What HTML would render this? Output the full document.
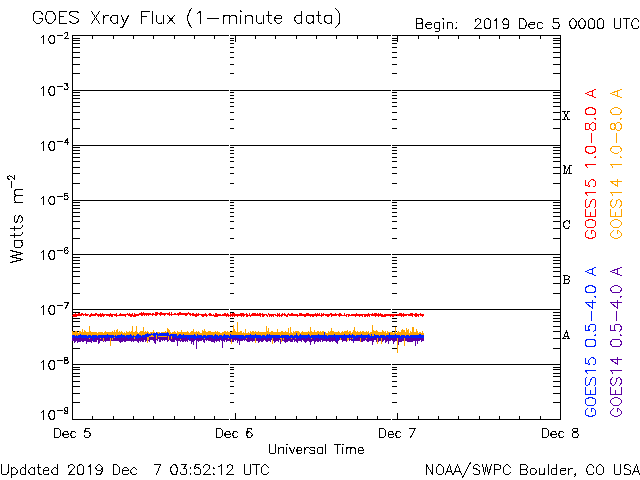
<!DOCTYPE html>
<html><head><meta charset="utf-8"><style>
html,body{margin:0;padding:0;background:#fff;width:640px;height:480px;overflow:hidden}
svg{display:block}
text{font-family:"Liberation Sans",sans-serif}
</style></head><body>
<svg width="640" height="480" viewBox="0 0 640 480">
<rect width="640" height="480" fill="#fff"/>
<g shape-rendering="crispEdges">
<rect x="72" y="35" width="489" height="1" fill="#000"/>
<rect x="72" y="419" width="489" height="1" fill="#000"/>
<rect x="72" y="35" width="1" height="385" fill="#000"/>
<rect x="560" y="35" width="1" height="385" fill="#000"/>
<rect x="72" y="90" width="489" height="1" fill="#000"/>
<rect x="72" y="145" width="489" height="1" fill="#000"/>
<rect x="72" y="200" width="489" height="1" fill="#000"/>
<rect x="72" y="254" width="489" height="1" fill="#000"/>
<rect x="72" y="309" width="489" height="1" fill="#000"/>
<rect x="72" y="364" width="489" height="1" fill="#000"/>
<rect x="72" y="73" width="8" height="1" fill="#000"/>
<rect x="553" y="73" width="8" height="1" fill="#000"/>
<rect x="230" y="73" width="4" height="1" fill="#000"/>
<rect x="392" y="73" width="5" height="1" fill="#000"/>
<rect x="72" y="64" width="8" height="1" fill="#000"/>
<rect x="553" y="64" width="8" height="1" fill="#000"/>
<rect x="230" y="64" width="4" height="1" fill="#000"/>
<rect x="392" y="64" width="5" height="1" fill="#000"/>
<rect x="72" y="57" width="8" height="1" fill="#000"/>
<rect x="553" y="57" width="8" height="1" fill="#000"/>
<rect x="230" y="57" width="4" height="1" fill="#000"/>
<rect x="392" y="57" width="5" height="1" fill="#000"/>
<rect x="72" y="52" width="8" height="1" fill="#000"/>
<rect x="553" y="52" width="8" height="1" fill="#000"/>
<rect x="230" y="52" width="4" height="1" fill="#000"/>
<rect x="392" y="52" width="5" height="1" fill="#000"/>
<rect x="72" y="47" width="8" height="1" fill="#000"/>
<rect x="553" y="47" width="8" height="1" fill="#000"/>
<rect x="230" y="47" width="4" height="1" fill="#000"/>
<rect x="392" y="47" width="5" height="1" fill="#000"/>
<rect x="72" y="43" width="8" height="1" fill="#000"/>
<rect x="553" y="43" width="8" height="1" fill="#000"/>
<rect x="230" y="43" width="4" height="1" fill="#000"/>
<rect x="392" y="43" width="5" height="1" fill="#000"/>
<rect x="72" y="40" width="8" height="1" fill="#000"/>
<rect x="553" y="40" width="8" height="1" fill="#000"/>
<rect x="230" y="40" width="4" height="1" fill="#000"/>
<rect x="392" y="40" width="5" height="1" fill="#000"/>
<rect x="72" y="38" width="8" height="1" fill="#000"/>
<rect x="553" y="38" width="8" height="1" fill="#000"/>
<rect x="230" y="38" width="4" height="1" fill="#000"/>
<rect x="392" y="38" width="5" height="1" fill="#000"/>
<rect x="72" y="128" width="8" height="1" fill="#000"/>
<rect x="553" y="128" width="8" height="1" fill="#000"/>
<rect x="230" y="128" width="4" height="1" fill="#000"/>
<rect x="392" y="128" width="5" height="1" fill="#000"/>
<rect x="72" y="119" width="8" height="1" fill="#000"/>
<rect x="553" y="119" width="8" height="1" fill="#000"/>
<rect x="230" y="119" width="4" height="1" fill="#000"/>
<rect x="392" y="119" width="5" height="1" fill="#000"/>
<rect x="72" y="112" width="8" height="1" fill="#000"/>
<rect x="553" y="112" width="8" height="1" fill="#000"/>
<rect x="230" y="112" width="4" height="1" fill="#000"/>
<rect x="392" y="112" width="5" height="1" fill="#000"/>
<rect x="72" y="106" width="8" height="1" fill="#000"/>
<rect x="553" y="106" width="8" height="1" fill="#000"/>
<rect x="230" y="106" width="4" height="1" fill="#000"/>
<rect x="392" y="106" width="5" height="1" fill="#000"/>
<rect x="72" y="102" width="8" height="1" fill="#000"/>
<rect x="553" y="102" width="8" height="1" fill="#000"/>
<rect x="230" y="102" width="4" height="1" fill="#000"/>
<rect x="392" y="102" width="5" height="1" fill="#000"/>
<rect x="72" y="98" width="8" height="1" fill="#000"/>
<rect x="553" y="98" width="8" height="1" fill="#000"/>
<rect x="230" y="98" width="4" height="1" fill="#000"/>
<rect x="392" y="98" width="5" height="1" fill="#000"/>
<rect x="72" y="95" width="8" height="1" fill="#000"/>
<rect x="553" y="95" width="8" height="1" fill="#000"/>
<rect x="230" y="95" width="4" height="1" fill="#000"/>
<rect x="392" y="95" width="5" height="1" fill="#000"/>
<rect x="72" y="92" width="8" height="1" fill="#000"/>
<rect x="553" y="92" width="8" height="1" fill="#000"/>
<rect x="230" y="92" width="4" height="1" fill="#000"/>
<rect x="392" y="92" width="5" height="1" fill="#000"/>
<rect x="72" y="183" width="8" height="1" fill="#000"/>
<rect x="553" y="183" width="8" height="1" fill="#000"/>
<rect x="230" y="183" width="4" height="1" fill="#000"/>
<rect x="392" y="183" width="5" height="1" fill="#000"/>
<rect x="72" y="173" width="8" height="1" fill="#000"/>
<rect x="553" y="173" width="8" height="1" fill="#000"/>
<rect x="230" y="173" width="4" height="1" fill="#000"/>
<rect x="392" y="173" width="5" height="1" fill="#000"/>
<rect x="72" y="167" width="8" height="1" fill="#000"/>
<rect x="553" y="167" width="8" height="1" fill="#000"/>
<rect x="230" y="167" width="4" height="1" fill="#000"/>
<rect x="392" y="167" width="5" height="1" fill="#000"/>
<rect x="72" y="161" width="8" height="1" fill="#000"/>
<rect x="553" y="161" width="8" height="1" fill="#000"/>
<rect x="230" y="161" width="4" height="1" fill="#000"/>
<rect x="392" y="161" width="5" height="1" fill="#000"/>
<rect x="72" y="157" width="8" height="1" fill="#000"/>
<rect x="553" y="157" width="8" height="1" fill="#000"/>
<rect x="230" y="157" width="4" height="1" fill="#000"/>
<rect x="392" y="157" width="5" height="1" fill="#000"/>
<rect x="72" y="153" width="8" height="1" fill="#000"/>
<rect x="553" y="153" width="8" height="1" fill="#000"/>
<rect x="230" y="153" width="4" height="1" fill="#000"/>
<rect x="392" y="153" width="5" height="1" fill="#000"/>
<rect x="72" y="150" width="8" height="1" fill="#000"/>
<rect x="553" y="150" width="8" height="1" fill="#000"/>
<rect x="230" y="150" width="4" height="1" fill="#000"/>
<rect x="392" y="150" width="5" height="1" fill="#000"/>
<rect x="72" y="147" width="8" height="1" fill="#000"/>
<rect x="553" y="147" width="8" height="1" fill="#000"/>
<rect x="230" y="147" width="4" height="1" fill="#000"/>
<rect x="392" y="147" width="5" height="1" fill="#000"/>
<rect x="72" y="238" width="8" height="1" fill="#000"/>
<rect x="553" y="238" width="8" height="1" fill="#000"/>
<rect x="230" y="238" width="4" height="1" fill="#000"/>
<rect x="392" y="238" width="5" height="1" fill="#000"/>
<rect x="72" y="228" width="8" height="1" fill="#000"/>
<rect x="553" y="228" width="8" height="1" fill="#000"/>
<rect x="230" y="228" width="4" height="1" fill="#000"/>
<rect x="392" y="228" width="5" height="1" fill="#000"/>
<rect x="72" y="221" width="8" height="1" fill="#000"/>
<rect x="553" y="221" width="8" height="1" fill="#000"/>
<rect x="230" y="221" width="4" height="1" fill="#000"/>
<rect x="392" y="221" width="5" height="1" fill="#000"/>
<rect x="72" y="216" width="8" height="1" fill="#000"/>
<rect x="553" y="216" width="8" height="1" fill="#000"/>
<rect x="230" y="216" width="4" height="1" fill="#000"/>
<rect x="392" y="216" width="5" height="1" fill="#000"/>
<rect x="72" y="212" width="8" height="1" fill="#000"/>
<rect x="553" y="212" width="8" height="1" fill="#000"/>
<rect x="230" y="212" width="4" height="1" fill="#000"/>
<rect x="392" y="212" width="5" height="1" fill="#000"/>
<rect x="72" y="208" width="8" height="1" fill="#000"/>
<rect x="553" y="208" width="8" height="1" fill="#000"/>
<rect x="230" y="208" width="4" height="1" fill="#000"/>
<rect x="392" y="208" width="5" height="1" fill="#000"/>
<rect x="72" y="205" width="8" height="1" fill="#000"/>
<rect x="553" y="205" width="8" height="1" fill="#000"/>
<rect x="230" y="205" width="4" height="1" fill="#000"/>
<rect x="392" y="205" width="5" height="1" fill="#000"/>
<rect x="72" y="202" width="8" height="1" fill="#000"/>
<rect x="553" y="202" width="8" height="1" fill="#000"/>
<rect x="230" y="202" width="4" height="1" fill="#000"/>
<rect x="392" y="202" width="5" height="1" fill="#000"/>
<rect x="72" y="293" width="8" height="1" fill="#000"/>
<rect x="553" y="293" width="8" height="1" fill="#000"/>
<rect x="230" y="293" width="4" height="1" fill="#000"/>
<rect x="392" y="293" width="5" height="1" fill="#000"/>
<rect x="72" y="283" width="8" height="1" fill="#000"/>
<rect x="553" y="283" width="8" height="1" fill="#000"/>
<rect x="230" y="283" width="4" height="1" fill="#000"/>
<rect x="392" y="283" width="5" height="1" fill="#000"/>
<rect x="72" y="276" width="8" height="1" fill="#000"/>
<rect x="553" y="276" width="8" height="1" fill="#000"/>
<rect x="230" y="276" width="4" height="1" fill="#000"/>
<rect x="392" y="276" width="5" height="1" fill="#000"/>
<rect x="72" y="271" width="8" height="1" fill="#000"/>
<rect x="553" y="271" width="8" height="1" fill="#000"/>
<rect x="230" y="271" width="4" height="1" fill="#000"/>
<rect x="392" y="271" width="5" height="1" fill="#000"/>
<rect x="72" y="267" width="8" height="1" fill="#000"/>
<rect x="553" y="267" width="8" height="1" fill="#000"/>
<rect x="230" y="267" width="4" height="1" fill="#000"/>
<rect x="392" y="267" width="5" height="1" fill="#000"/>
<rect x="72" y="263" width="8" height="1" fill="#000"/>
<rect x="553" y="263" width="8" height="1" fill="#000"/>
<rect x="230" y="263" width="4" height="1" fill="#000"/>
<rect x="392" y="263" width="5" height="1" fill="#000"/>
<rect x="72" y="260" width="8" height="1" fill="#000"/>
<rect x="553" y="260" width="8" height="1" fill="#000"/>
<rect x="230" y="260" width="4" height="1" fill="#000"/>
<rect x="392" y="260" width="5" height="1" fill="#000"/>
<rect x="72" y="257" width="8" height="1" fill="#000"/>
<rect x="553" y="257" width="8" height="1" fill="#000"/>
<rect x="230" y="257" width="4" height="1" fill="#000"/>
<rect x="392" y="257" width="5" height="1" fill="#000"/>
<rect x="72" y="348" width="8" height="1" fill="#000"/>
<rect x="553" y="348" width="8" height="1" fill="#000"/>
<rect x="230" y="348" width="4" height="1" fill="#000"/>
<rect x="392" y="348" width="5" height="1" fill="#000"/>
<rect x="72" y="338" width="8" height="1" fill="#000"/>
<rect x="553" y="338" width="8" height="1" fill="#000"/>
<rect x="230" y="338" width="4" height="1" fill="#000"/>
<rect x="392" y="338" width="5" height="1" fill="#000"/>
<rect x="72" y="331" width="8" height="1" fill="#000"/>
<rect x="553" y="331" width="8" height="1" fill="#000"/>
<rect x="230" y="331" width="4" height="1" fill="#000"/>
<rect x="392" y="331" width="5" height="1" fill="#000"/>
<rect x="72" y="326" width="8" height="1" fill="#000"/>
<rect x="553" y="326" width="8" height="1" fill="#000"/>
<rect x="230" y="326" width="4" height="1" fill="#000"/>
<rect x="392" y="326" width="5" height="1" fill="#000"/>
<rect x="72" y="321" width="8" height="1" fill="#000"/>
<rect x="553" y="321" width="8" height="1" fill="#000"/>
<rect x="230" y="321" width="4" height="1" fill="#000"/>
<rect x="392" y="321" width="5" height="1" fill="#000"/>
<rect x="72" y="318" width="8" height="1" fill="#000"/>
<rect x="553" y="318" width="8" height="1" fill="#000"/>
<rect x="230" y="318" width="4" height="1" fill="#000"/>
<rect x="392" y="318" width="5" height="1" fill="#000"/>
<rect x="72" y="315" width="8" height="1" fill="#000"/>
<rect x="553" y="315" width="8" height="1" fill="#000"/>
<rect x="230" y="315" width="4" height="1" fill="#000"/>
<rect x="392" y="315" width="5" height="1" fill="#000"/>
<rect x="72" y="312" width="8" height="1" fill="#000"/>
<rect x="553" y="312" width="8" height="1" fill="#000"/>
<rect x="230" y="312" width="4" height="1" fill="#000"/>
<rect x="392" y="312" width="5" height="1" fill="#000"/>
<rect x="72" y="402" width="8" height="1" fill="#000"/>
<rect x="553" y="402" width="8" height="1" fill="#000"/>
<rect x="230" y="402" width="4" height="1" fill="#000"/>
<rect x="392" y="402" width="5" height="1" fill="#000"/>
<rect x="72" y="393" width="8" height="1" fill="#000"/>
<rect x="553" y="393" width="8" height="1" fill="#000"/>
<rect x="230" y="393" width="4" height="1" fill="#000"/>
<rect x="392" y="393" width="5" height="1" fill="#000"/>
<rect x="72" y="386" width="8" height="1" fill="#000"/>
<rect x="553" y="386" width="8" height="1" fill="#000"/>
<rect x="230" y="386" width="4" height="1" fill="#000"/>
<rect x="392" y="386" width="5" height="1" fill="#000"/>
<rect x="72" y="381" width="8" height="1" fill="#000"/>
<rect x="553" y="381" width="8" height="1" fill="#000"/>
<rect x="230" y="381" width="4" height="1" fill="#000"/>
<rect x="392" y="381" width="5" height="1" fill="#000"/>
<rect x="72" y="376" width="8" height="1" fill="#000"/>
<rect x="553" y="376" width="8" height="1" fill="#000"/>
<rect x="230" y="376" width="4" height="1" fill="#000"/>
<rect x="392" y="376" width="5" height="1" fill="#000"/>
<rect x="72" y="373" width="8" height="1" fill="#000"/>
<rect x="553" y="373" width="8" height="1" fill="#000"/>
<rect x="230" y="373" width="4" height="1" fill="#000"/>
<rect x="392" y="373" width="5" height="1" fill="#000"/>
<rect x="72" y="369" width="8" height="1" fill="#000"/>
<rect x="553" y="369" width="8" height="1" fill="#000"/>
<rect x="230" y="369" width="4" height="1" fill="#000"/>
<rect x="392" y="369" width="5" height="1" fill="#000"/>
<rect x="72" y="367" width="8" height="1" fill="#000"/>
<rect x="553" y="367" width="8" height="1" fill="#000"/>
<rect x="230" y="367" width="4" height="1" fill="#000"/>
<rect x="392" y="367" width="5" height="1" fill="#000"/>
<rect x="229" y="35" width="1" height="385" fill="#fff"/>
<rect x="391" y="35" width="1" height="385" fill="#fff"/>
<rect x="92" y="36" width="1" height="3" fill="#000"/>
<rect x="92" y="416" width="1" height="3" fill="#000"/>
<rect x="113" y="36" width="1" height="3" fill="#000"/>
<rect x="113" y="416" width="1" height="3" fill="#000"/>
<rect x="133" y="36" width="1" height="3" fill="#000"/>
<rect x="133" y="416" width="1" height="3" fill="#000"/>
<rect x="153" y="36" width="1" height="3" fill="#000"/>
<rect x="153" y="416" width="1" height="3" fill="#000"/>
<rect x="174" y="36" width="1" height="3" fill="#000"/>
<rect x="174" y="416" width="1" height="3" fill="#000"/>
<rect x="194" y="36" width="1" height="3" fill="#000"/>
<rect x="194" y="416" width="1" height="3" fill="#000"/>
<rect x="214" y="36" width="1" height="3" fill="#000"/>
<rect x="214" y="416" width="1" height="3" fill="#000"/>
<rect x="235" y="36" width="1" height="6" fill="#000"/>
<rect x="235" y="413" width="1" height="6" fill="#000"/>
<rect x="255" y="36" width="1" height="3" fill="#000"/>
<rect x="255" y="416" width="1" height="3" fill="#000"/>
<rect x="275" y="36" width="1" height="3" fill="#000"/>
<rect x="275" y="416" width="1" height="3" fill="#000"/>
<rect x="296" y="36" width="1" height="3" fill="#000"/>
<rect x="296" y="416" width="1" height="3" fill="#000"/>
<rect x="316" y="36" width="1" height="3" fill="#000"/>
<rect x="316" y="416" width="1" height="3" fill="#000"/>
<rect x="336" y="36" width="1" height="3" fill="#000"/>
<rect x="336" y="416" width="1" height="3" fill="#000"/>
<rect x="357" y="36" width="1" height="3" fill="#000"/>
<rect x="357" y="416" width="1" height="3" fill="#000"/>
<rect x="377" y="36" width="1" height="3" fill="#000"/>
<rect x="377" y="416" width="1" height="3" fill="#000"/>
<rect x="397" y="36" width="1" height="6" fill="#000"/>
<rect x="397" y="413" width="1" height="6" fill="#000"/>
<rect x="418" y="36" width="1" height="3" fill="#000"/>
<rect x="418" y="416" width="1" height="3" fill="#000"/>
<rect x="438" y="36" width="1" height="3" fill="#000"/>
<rect x="438" y="416" width="1" height="3" fill="#000"/>
<rect x="458" y="36" width="1" height="3" fill="#000"/>
<rect x="458" y="416" width="1" height="3" fill="#000"/>
<rect x="479" y="36" width="1" height="3" fill="#000"/>
<rect x="479" y="416" width="1" height="3" fill="#000"/>
<rect x="499" y="36" width="1" height="3" fill="#000"/>
<rect x="499" y="416" width="1" height="3" fill="#000"/>
<rect x="519" y="36" width="1" height="3" fill="#000"/>
<rect x="519" y="416" width="1" height="3" fill="#000"/>
<rect x="540" y="36" width="1" height="3" fill="#000"/>
<rect x="540" y="416" width="1" height="3" fill="#000"/>
<rect x="72" y="337" width="1" height="4" fill="#5c00a4"/>
<rect x="73" y="337" width="1" height="4" fill="#5c00a4"/>
<rect x="74" y="337" width="1" height="6" fill="#5c00a4"/>
<rect x="75" y="337" width="1" height="5" fill="#5c00a4"/>
<rect x="76" y="337" width="1" height="4" fill="#5c00a4"/>
<rect x="77" y="337" width="1" height="6" fill="#5c00a4"/>
<rect x="78" y="337" width="1" height="5" fill="#5c00a4"/>
<rect x="79" y="337" width="1" height="5" fill="#5c00a4"/>
<rect x="80" y="337" width="1" height="5" fill="#5c00a4"/>
<rect x="81" y="337" width="1" height="4" fill="#5c00a4"/>
<rect x="82" y="337" width="1" height="5" fill="#5c00a4"/>
<rect x="83" y="337" width="1" height="5" fill="#5c00a4"/>
<rect x="84" y="337" width="1" height="4" fill="#5c00a4"/>
<rect x="85" y="337" width="1" height="4" fill="#5c00a4"/>
<rect x="86" y="337" width="1" height="7" fill="#5c00a4"/>
<rect x="87" y="337" width="1" height="5" fill="#5c00a4"/>
<rect x="88" y="337" width="1" height="5" fill="#5c00a4"/>
<rect x="89" y="337" width="1" height="5" fill="#5c00a4"/>
<rect x="90" y="337" width="1" height="5" fill="#5c00a4"/>
<rect x="91" y="337" width="1" height="6" fill="#5c00a4"/>
<rect x="92" y="337" width="1" height="4" fill="#5c00a4"/>
<rect x="93" y="337" width="1" height="5" fill="#5c00a4"/>
<rect x="94" y="337" width="1" height="5" fill="#5c00a4"/>
<rect x="95" y="337" width="1" height="5" fill="#5c00a4"/>
<rect x="96" y="337" width="1" height="5" fill="#5c00a4"/>
<rect x="97" y="337" width="1" height="3" fill="#5c00a4"/>
<rect x="98" y="337" width="1" height="7" fill="#5c00a4"/>
<rect x="99" y="337" width="1" height="6" fill="#5c00a4"/>
<rect x="100" y="337" width="1" height="4" fill="#5c00a4"/>
<rect x="101" y="337" width="1" height="4" fill="#5c00a4"/>
<rect x="102" y="337" width="1" height="4" fill="#5c00a4"/>
<rect x="103" y="337" width="1" height="5" fill="#5c00a4"/>
<rect x="104" y="337" width="1" height="4" fill="#5c00a4"/>
<rect x="105" y="337" width="1" height="5" fill="#5c00a4"/>
<rect x="106" y="337" width="1" height="4" fill="#5c00a4"/>
<rect x="107" y="337" width="1" height="4" fill="#5c00a4"/>
<rect x="108" y="337" width="1" height="4" fill="#5c00a4"/>
<rect x="109" y="337" width="1" height="4" fill="#5c00a4"/>
<rect x="110" y="337" width="1" height="4" fill="#5c00a4"/>
<rect x="111" y="337" width="1" height="4" fill="#5c00a4"/>
<rect x="112" y="337" width="1" height="4" fill="#5c00a4"/>
<rect x="113" y="337" width="1" height="4" fill="#5c00a4"/>
<rect x="114" y="337" width="1" height="4" fill="#5c00a4"/>
<rect x="115" y="337" width="1" height="4" fill="#5c00a4"/>
<rect x="116" y="337" width="1" height="4" fill="#5c00a4"/>
<rect x="117" y="337" width="1" height="4" fill="#5c00a4"/>
<rect x="118" y="337" width="1" height="4" fill="#5c00a4"/>
<rect x="119" y="337" width="1" height="5" fill="#5c00a4"/>
<rect x="120" y="337" width="1" height="6" fill="#5c00a4"/>
<rect x="121" y="337" width="1" height="5" fill="#5c00a4"/>
<rect x="122" y="337" width="1" height="5" fill="#5c00a4"/>
<rect x="123" y="337" width="1" height="4" fill="#5c00a4"/>
<rect x="124" y="337" width="1" height="5" fill="#5c00a4"/>
<rect x="125" y="337" width="1" height="5" fill="#5c00a4"/>
<rect x="126" y="337" width="1" height="4" fill="#5c00a4"/>
<rect x="127" y="337" width="1" height="4" fill="#5c00a4"/>
<rect x="128" y="337" width="1" height="4" fill="#5c00a4"/>
<rect x="129" y="337" width="1" height="4" fill="#5c00a4"/>
<rect x="130" y="337" width="1" height="4" fill="#5c00a4"/>
<rect x="131" y="337" width="1" height="5" fill="#5c00a4"/>
<rect x="132" y="337" width="1" height="4" fill="#5c00a4"/>
<rect x="133" y="337" width="1" height="5" fill="#5c00a4"/>
<rect x="134" y="337" width="1" height="4" fill="#5c00a4"/>
<rect x="135" y="337" width="1" height="4" fill="#5c00a4"/>
<rect x="136" y="337" width="1" height="4" fill="#5c00a4"/>
<rect x="137" y="337" width="1" height="5" fill="#5c00a4"/>
<rect x="138" y="337" width="1" height="6" fill="#5c00a4"/>
<rect x="139" y="337" width="1" height="4" fill="#5c00a4"/>
<rect x="140" y="337" width="1" height="5" fill="#5c00a4"/>
<rect x="141" y="337" width="1" height="4" fill="#5c00a4"/>
<rect x="142" y="337" width="1" height="5" fill="#5c00a4"/>
<rect x="143" y="337" width="1" height="5" fill="#5c00a4"/>
<rect x="144" y="337" width="1" height="3" fill="#5c00a4"/>
<rect x="145" y="337" width="1" height="5" fill="#5c00a4"/>
<rect x="146" y="337" width="1" height="4" fill="#5c00a4"/>
<rect x="147" y="337" width="1" height="4" fill="#5c00a4"/>
<rect x="148" y="337" width="1" height="4" fill="#5c00a4"/>
<rect x="149" y="337" width="1" height="5" fill="#5c00a4"/>
<rect x="150" y="336" width="1" height="4" fill="#5c00a4"/>
<rect x="151" y="336" width="1" height="4" fill="#5c00a4"/>
<rect x="152" y="336" width="1" height="4" fill="#5c00a4"/>
<rect x="153" y="336" width="1" height="5" fill="#5c00a4"/>
<rect x="154" y="336" width="1" height="7" fill="#5c00a4"/>
<rect x="155" y="336" width="1" height="8" fill="#5c00a4"/>
<rect x="156" y="336" width="1" height="4" fill="#5c00a4"/>
<rect x="157" y="336" width="1" height="5" fill="#5c00a4"/>
<rect x="158" y="336" width="1" height="3" fill="#5c00a4"/>
<rect x="159" y="336" width="1" height="6" fill="#5c00a4"/>
<rect x="160" y="336" width="1" height="6" fill="#5c00a4"/>
<rect x="161" y="336" width="1" height="4" fill="#5c00a4"/>
<rect x="162" y="336" width="1" height="5" fill="#5c00a4"/>
<rect x="163" y="336" width="1" height="4" fill="#5c00a4"/>
<rect x="164" y="336" width="1" height="5" fill="#5c00a4"/>
<rect x="165" y="336" width="1" height="4" fill="#5c00a4"/>
<rect x="166" y="336" width="1" height="4" fill="#5c00a4"/>
<rect x="167" y="336" width="1" height="6" fill="#5c00a4"/>
<rect x="168" y="336" width="1" height="5" fill="#5c00a4"/>
<rect x="169" y="336" width="1" height="4" fill="#5c00a4"/>
<rect x="170" y="336" width="1" height="5" fill="#5c00a4"/>
<rect x="171" y="337" width="1" height="5" fill="#5c00a4"/>
<rect x="172" y="337" width="1" height="5" fill="#5c00a4"/>
<rect x="173" y="337" width="1" height="5" fill="#5c00a4"/>
<rect x="174" y="337" width="1" height="5" fill="#5c00a4"/>
<rect x="175" y="337" width="1" height="3" fill="#5c00a4"/>
<rect x="176" y="337" width="1" height="4" fill="#5c00a4"/>
<rect x="177" y="337" width="1" height="9" fill="#5c00a4"/>
<rect x="178" y="337" width="1" height="4" fill="#5c00a4"/>
<rect x="179" y="337" width="1" height="4" fill="#5c00a4"/>
<rect x="180" y="337" width="1" height="5" fill="#5c00a4"/>
<rect x="181" y="337" width="1" height="4" fill="#5c00a4"/>
<rect x="182" y="337" width="1" height="5" fill="#5c00a4"/>
<rect x="183" y="337" width="1" height="5" fill="#5c00a4"/>
<rect x="184" y="337" width="1" height="4" fill="#5c00a4"/>
<rect x="185" y="337" width="1" height="5" fill="#5c00a4"/>
<rect x="186" y="337" width="1" height="4" fill="#5c00a4"/>
<rect x="187" y="337" width="1" height="5" fill="#5c00a4"/>
<rect x="188" y="337" width="1" height="3" fill="#5c00a4"/>
<rect x="189" y="337" width="1" height="4" fill="#5c00a4"/>
<rect x="190" y="337" width="1" height="4" fill="#5c00a4"/>
<rect x="191" y="337" width="1" height="7" fill="#5c00a4"/>
<rect x="192" y="337" width="1" height="5" fill="#5c00a4"/>
<rect x="193" y="337" width="1" height="8" fill="#5c00a4"/>
<rect x="194" y="337" width="1" height="4" fill="#5c00a4"/>
<rect x="195" y="337" width="1" height="3" fill="#5c00a4"/>
<rect x="196" y="337" width="1" height="12" fill="#5c00a4"/>
<rect x="197" y="337" width="1" height="4" fill="#5c00a4"/>
<rect x="198" y="337" width="1" height="5" fill="#5c00a4"/>
<rect x="199" y="337" width="1" height="4" fill="#5c00a4"/>
<rect x="200" y="337" width="1" height="4" fill="#5c00a4"/>
<rect x="201" y="337" width="1" height="4" fill="#5c00a4"/>
<rect x="202" y="337" width="1" height="3" fill="#5c00a4"/>
<rect x="203" y="337" width="1" height="5" fill="#5c00a4"/>
<rect x="204" y="337" width="1" height="6" fill="#5c00a4"/>
<rect x="205" y="337" width="1" height="3" fill="#5c00a4"/>
<rect x="206" y="337" width="1" height="4" fill="#5c00a4"/>
<rect x="207" y="337" width="1" height="3" fill="#5c00a4"/>
<rect x="208" y="337" width="1" height="4" fill="#5c00a4"/>
<rect x="209" y="337" width="1" height="4" fill="#5c00a4"/>
<rect x="210" y="337" width="1" height="4" fill="#5c00a4"/>
<rect x="211" y="337" width="1" height="5" fill="#5c00a4"/>
<rect x="212" y="337" width="1" height="5" fill="#5c00a4"/>
<rect x="213" y="337" width="1" height="5" fill="#5c00a4"/>
<rect x="214" y="337" width="1" height="6" fill="#5c00a4"/>
<rect x="215" y="337" width="1" height="4" fill="#5c00a4"/>
<rect x="216" y="337" width="1" height="5" fill="#5c00a4"/>
<rect x="217" y="337" width="1" height="4" fill="#5c00a4"/>
<rect x="218" y="337" width="1" height="4" fill="#5c00a4"/>
<rect x="219" y="337" width="1" height="5" fill="#5c00a4"/>
<rect x="220" y="337" width="1" height="3" fill="#5c00a4"/>
<rect x="221" y="337" width="1" height="4" fill="#5c00a4"/>
<rect x="222" y="337" width="1" height="11" fill="#5c00a4"/>
<rect x="223" y="337" width="1" height="4" fill="#5c00a4"/>
<rect x="224" y="337" width="1" height="5" fill="#5c00a4"/>
<rect x="225" y="337" width="1" height="3" fill="#5c00a4"/>
<rect x="226" y="337" width="1" height="5" fill="#5c00a4"/>
<rect x="227" y="337" width="1" height="4" fill="#5c00a4"/>
<rect x="228" y="337" width="1" height="4" fill="#5c00a4"/>
<rect x="229" y="337" width="1" height="4" fill="#5c00a4"/>
<rect x="230" y="337" width="1" height="5" fill="#5c00a4"/>
<rect x="231" y="337" width="1" height="6" fill="#5c00a4"/>
<rect x="232" y="337" width="1" height="5" fill="#5c00a4"/>
<rect x="233" y="337" width="1" height="5" fill="#5c00a4"/>
<rect x="234" y="337" width="1" height="3" fill="#5c00a4"/>
<rect x="235" y="337" width="1" height="4" fill="#5c00a4"/>
<rect x="236" y="337" width="1" height="3" fill="#5c00a4"/>
<rect x="237" y="337" width="1" height="6" fill="#5c00a4"/>
<rect x="238" y="337" width="1" height="4" fill="#5c00a4"/>
<rect x="239" y="337" width="1" height="8" fill="#5c00a4"/>
<rect x="240" y="337" width="1" height="4" fill="#5c00a4"/>
<rect x="241" y="337" width="1" height="4" fill="#5c00a4"/>
<rect x="242" y="337" width="1" height="4" fill="#5c00a4"/>
<rect x="243" y="337" width="1" height="3" fill="#5c00a4"/>
<rect x="244" y="337" width="1" height="4" fill="#5c00a4"/>
<rect x="245" y="337" width="1" height="3" fill="#5c00a4"/>
<rect x="246" y="337" width="1" height="4" fill="#5c00a4"/>
<rect x="247" y="337" width="1" height="5" fill="#5c00a4"/>
<rect x="248" y="337" width="1" height="5" fill="#5c00a4"/>
<rect x="249" y="337" width="1" height="5" fill="#5c00a4"/>
<rect x="250" y="337" width="1" height="4" fill="#5c00a4"/>
<rect x="251" y="337" width="1" height="4" fill="#5c00a4"/>
<rect x="252" y="337" width="1" height="5" fill="#5c00a4"/>
<rect x="253" y="337" width="1" height="4" fill="#5c00a4"/>
<rect x="254" y="337" width="1" height="4" fill="#5c00a4"/>
<rect x="255" y="337" width="1" height="4" fill="#5c00a4"/>
<rect x="256" y="337" width="1" height="4" fill="#5c00a4"/>
<rect x="257" y="337" width="1" height="4" fill="#5c00a4"/>
<rect x="258" y="337" width="1" height="6" fill="#5c00a4"/>
<rect x="259" y="337" width="1" height="5" fill="#5c00a4"/>
<rect x="260" y="337" width="1" height="4" fill="#5c00a4"/>
<rect x="261" y="337" width="1" height="5" fill="#5c00a4"/>
<rect x="262" y="337" width="1" height="5" fill="#5c00a4"/>
<rect x="263" y="337" width="1" height="4" fill="#5c00a4"/>
<rect x="264" y="337" width="1" height="3" fill="#5c00a4"/>
<rect x="265" y="337" width="1" height="4" fill="#5c00a4"/>
<rect x="266" y="337" width="1" height="5" fill="#5c00a4"/>
<rect x="267" y="337" width="1" height="5" fill="#5c00a4"/>
<rect x="268" y="337" width="1" height="4" fill="#5c00a4"/>
<rect x="269" y="337" width="1" height="4" fill="#5c00a4"/>
<rect x="270" y="337" width="1" height="5" fill="#5c00a4"/>
<rect x="271" y="337" width="1" height="3" fill="#5c00a4"/>
<rect x="272" y="337" width="1" height="5" fill="#5c00a4"/>
<rect x="273" y="337" width="1" height="4" fill="#5c00a4"/>
<rect x="274" y="337" width="1" height="6" fill="#5c00a4"/>
<rect x="275" y="337" width="1" height="5" fill="#5c00a4"/>
<rect x="276" y="337" width="1" height="4" fill="#5c00a4"/>
<rect x="277" y="337" width="1" height="4" fill="#5c00a4"/>
<rect x="278" y="337" width="1" height="5" fill="#5c00a4"/>
<rect x="279" y="337" width="1" height="3" fill="#5c00a4"/>
<rect x="280" y="337" width="1" height="7" fill="#5c00a4"/>
<rect x="281" y="337" width="1" height="4" fill="#5c00a4"/>
<rect x="282" y="337" width="1" height="4" fill="#5c00a4"/>
<rect x="283" y="337" width="1" height="4" fill="#5c00a4"/>
<rect x="284" y="337" width="1" height="5" fill="#5c00a4"/>
<rect x="285" y="337" width="1" height="6" fill="#5c00a4"/>
<rect x="286" y="337" width="1" height="5" fill="#5c00a4"/>
<rect x="287" y="337" width="1" height="5" fill="#5c00a4"/>
<rect x="288" y="337" width="1" height="4" fill="#5c00a4"/>
<rect x="289" y="337" width="1" height="4" fill="#5c00a4"/>
<rect x="290" y="337" width="1" height="5" fill="#5c00a4"/>
<rect x="291" y="337" width="1" height="5" fill="#5c00a4"/>
<rect x="292" y="337" width="1" height="5" fill="#5c00a4"/>
<rect x="293" y="337" width="1" height="3" fill="#5c00a4"/>
<rect x="294" y="337" width="1" height="5" fill="#5c00a4"/>
<rect x="295" y="337" width="1" height="4" fill="#5c00a4"/>
<rect x="296" y="337" width="1" height="5" fill="#5c00a4"/>
<rect x="297" y="337" width="1" height="6" fill="#5c00a4"/>
<rect x="298" y="337" width="1" height="4" fill="#5c00a4"/>
<rect x="299" y="337" width="1" height="4" fill="#5c00a4"/>
<rect x="300" y="337" width="1" height="4" fill="#5c00a4"/>
<rect x="301" y="337" width="1" height="5" fill="#5c00a4"/>
<rect x="302" y="337" width="1" height="3" fill="#5c00a4"/>
<rect x="303" y="337" width="1" height="4" fill="#5c00a4"/>
<rect x="304" y="337" width="1" height="5" fill="#5c00a4"/>
<rect x="305" y="337" width="1" height="6" fill="#5c00a4"/>
<rect x="306" y="337" width="1" height="5" fill="#5c00a4"/>
<rect x="307" y="337" width="1" height="4" fill="#5c00a4"/>
<rect x="308" y="337" width="1" height="4" fill="#5c00a4"/>
<rect x="309" y="337" width="1" height="5" fill="#5c00a4"/>
<rect x="310" y="337" width="1" height="8" fill="#5c00a4"/>
<rect x="311" y="337" width="1" height="5" fill="#5c00a4"/>
<rect x="312" y="337" width="1" height="4" fill="#5c00a4"/>
<rect x="313" y="337" width="1" height="4" fill="#5c00a4"/>
<rect x="314" y="337" width="1" height="7" fill="#5c00a4"/>
<rect x="315" y="337" width="1" height="5" fill="#5c00a4"/>
<rect x="316" y="337" width="1" height="4" fill="#5c00a4"/>
<rect x="317" y="337" width="1" height="5" fill="#5c00a4"/>
<rect x="318" y="337" width="1" height="5" fill="#5c00a4"/>
<rect x="319" y="337" width="1" height="4" fill="#5c00a4"/>
<rect x="320" y="337" width="1" height="5" fill="#5c00a4"/>
<rect x="321" y="337" width="1" height="3" fill="#5c00a4"/>
<rect x="322" y="337" width="1" height="5" fill="#5c00a4"/>
<rect x="323" y="337" width="1" height="4" fill="#5c00a4"/>
<rect x="324" y="337" width="1" height="4" fill="#5c00a4"/>
<rect x="325" y="337" width="1" height="4" fill="#5c00a4"/>
<rect x="326" y="337" width="1" height="5" fill="#5c00a4"/>
<rect x="327" y="337" width="1" height="4" fill="#5c00a4"/>
<rect x="328" y="337" width="1" height="4" fill="#5c00a4"/>
<rect x="329" y="337" width="1" height="5" fill="#5c00a4"/>
<rect x="330" y="337" width="1" height="5" fill="#5c00a4"/>
<rect x="331" y="337" width="1" height="4" fill="#5c00a4"/>
<rect x="332" y="337" width="1" height="5" fill="#5c00a4"/>
<rect x="333" y="337" width="1" height="4" fill="#5c00a4"/>
<rect x="334" y="337" width="1" height="4" fill="#5c00a4"/>
<rect x="335" y="337" width="1" height="5" fill="#5c00a4"/>
<rect x="336" y="337" width="1" height="6" fill="#5c00a4"/>
<rect x="337" y="337" width="1" height="7" fill="#5c00a4"/>
<rect x="338" y="337" width="1" height="4" fill="#5c00a4"/>
<rect x="339" y="337" width="1" height="3" fill="#5c00a4"/>
<rect x="340" y="337" width="1" height="3" fill="#5c00a4"/>
<rect x="341" y="337" width="1" height="3" fill="#5c00a4"/>
<rect x="342" y="337" width="1" height="5" fill="#5c00a4"/>
<rect x="343" y="337" width="1" height="4" fill="#5c00a4"/>
<rect x="344" y="337" width="1" height="4" fill="#5c00a4"/>
<rect x="345" y="337" width="1" height="4" fill="#5c00a4"/>
<rect x="346" y="337" width="1" height="5" fill="#5c00a4"/>
<rect x="347" y="337" width="1" height="4" fill="#5c00a4"/>
<rect x="348" y="337" width="1" height="3" fill="#5c00a4"/>
<rect x="349" y="337" width="1" height="4" fill="#5c00a4"/>
<rect x="350" y="337" width="1" height="3" fill="#5c00a4"/>
<rect x="351" y="337" width="1" height="4" fill="#5c00a4"/>
<rect x="352" y="337" width="1" height="4" fill="#5c00a4"/>
<rect x="353" y="337" width="1" height="6" fill="#5c00a4"/>
<rect x="354" y="337" width="1" height="4" fill="#5c00a4"/>
<rect x="355" y="337" width="1" height="4" fill="#5c00a4"/>
<rect x="356" y="337" width="1" height="4" fill="#5c00a4"/>
<rect x="357" y="337" width="1" height="4" fill="#5c00a4"/>
<rect x="358" y="337" width="1" height="4" fill="#5c00a4"/>
<rect x="359" y="337" width="1" height="4" fill="#5c00a4"/>
<rect x="360" y="337" width="1" height="4" fill="#5c00a4"/>
<rect x="361" y="337" width="1" height="5" fill="#5c00a4"/>
<rect x="362" y="337" width="1" height="5" fill="#5c00a4"/>
<rect x="363" y="337" width="1" height="4" fill="#5c00a4"/>
<rect x="364" y="337" width="1" height="4" fill="#5c00a4"/>
<rect x="365" y="337" width="1" height="3" fill="#5c00a4"/>
<rect x="366" y="337" width="1" height="4" fill="#5c00a4"/>
<rect x="367" y="337" width="1" height="5" fill="#5c00a4"/>
<rect x="368" y="337" width="1" height="5" fill="#5c00a4"/>
<rect x="369" y="337" width="1" height="4" fill="#5c00a4"/>
<rect x="370" y="337" width="1" height="4" fill="#5c00a4"/>
<rect x="371" y="337" width="1" height="4" fill="#5c00a4"/>
<rect x="372" y="337" width="1" height="8" fill="#5c00a4"/>
<rect x="373" y="337" width="1" height="5" fill="#5c00a4"/>
<rect x="374" y="337" width="1" height="3" fill="#5c00a4"/>
<rect x="375" y="337" width="1" height="3" fill="#5c00a4"/>
<rect x="376" y="337" width="1" height="5" fill="#5c00a4"/>
<rect x="377" y="337" width="1" height="5" fill="#5c00a4"/>
<rect x="378" y="337" width="1" height="5" fill="#5c00a4"/>
<rect x="379" y="337" width="1" height="4" fill="#5c00a4"/>
<rect x="380" y="337" width="1" height="4" fill="#5c00a4"/>
<rect x="381" y="337" width="1" height="4" fill="#5c00a4"/>
<rect x="382" y="337" width="1" height="5" fill="#5c00a4"/>
<rect x="383" y="337" width="1" height="4" fill="#5c00a4"/>
<rect x="384" y="337" width="1" height="3" fill="#5c00a4"/>
<rect x="385" y="337" width="1" height="6" fill="#5c00a4"/>
<rect x="386" y="337" width="1" height="5" fill="#5c00a4"/>
<rect x="387" y="337" width="1" height="4" fill="#5c00a4"/>
<rect x="388" y="337" width="1" height="7" fill="#5c00a4"/>
<rect x="389" y="337" width="1" height="4" fill="#5c00a4"/>
<rect x="390" y="337" width="1" height="4" fill="#5c00a4"/>
<rect x="391" y="337" width="1" height="3" fill="#5c00a4"/>
<rect x="392" y="337" width="1" height="4" fill="#5c00a4"/>
<rect x="393" y="337" width="1" height="7" fill="#5c00a4"/>
<rect x="394" y="337" width="1" height="5" fill="#5c00a4"/>
<rect x="395" y="337" width="1" height="4" fill="#5c00a4"/>
<rect x="396" y="337" width="1" height="4" fill="#5c00a4"/>
<rect x="397" y="337" width="1" height="4" fill="#5c00a4"/>
<rect x="398" y="337" width="1" height="8" fill="#5c00a4"/>
<rect x="399" y="337" width="1" height="5" fill="#5c00a4"/>
<rect x="400" y="337" width="1" height="5" fill="#5c00a4"/>
<rect x="401" y="337" width="1" height="5" fill="#5c00a4"/>
<rect x="402" y="337" width="1" height="4" fill="#5c00a4"/>
<rect x="403" y="337" width="1" height="4" fill="#5c00a4"/>
<rect x="404" y="337" width="1" height="5" fill="#5c00a4"/>
<rect x="405" y="337" width="1" height="4" fill="#5c00a4"/>
<rect x="406" y="337" width="1" height="4" fill="#5c00a4"/>
<rect x="407" y="337" width="1" height="5" fill="#5c00a4"/>
<rect x="408" y="337" width="1" height="5" fill="#5c00a4"/>
<rect x="409" y="337" width="1" height="5" fill="#5c00a4"/>
<rect x="410" y="337" width="1" height="5" fill="#5c00a4"/>
<rect x="411" y="337" width="1" height="5" fill="#5c00a4"/>
<rect x="412" y="337" width="1" height="5" fill="#5c00a4"/>
<rect x="413" y="337" width="1" height="4" fill="#5c00a4"/>
<rect x="414" y="337" width="1" height="4" fill="#5c00a4"/>
<rect x="415" y="337" width="1" height="9" fill="#5c00a4"/>
<rect x="416" y="337" width="1" height="4" fill="#5c00a4"/>
<rect x="417" y="337" width="1" height="7" fill="#5c00a4"/>
<rect x="418" y="337" width="1" height="4" fill="#5c00a4"/>
<rect x="419" y="337" width="1" height="4" fill="#5c00a4"/>
<rect x="420" y="337" width="1" height="3" fill="#5c00a4"/>
<rect x="421" y="337" width="1" height="5" fill="#5c00a4"/>
<rect x="422" y="337" width="1" height="4" fill="#5c00a4"/>
<rect x="423" y="337" width="1" height="4" fill="#5c00a4"/>
<rect x="145" y="335" width="1" height="1" fill="#ffa500"/>
<rect x="146" y="335" width="1" height="2" fill="#ffa500"/>
<rect x="147" y="335" width="1" height="1" fill="#ffa500"/>
<rect x="148" y="335" width="1" height="2" fill="#ffa500"/>
<rect x="149" y="335" width="1" height="2" fill="#ffa500"/>
<rect x="150" y="335" width="1" height="2" fill="#ffa500"/>
<rect x="151" y="335" width="1" height="2" fill="#ffa500"/>
<rect x="152" y="335" width="1" height="2" fill="#ffa500"/>
<rect x="153" y="335" width="1" height="2" fill="#ffa500"/>
<rect x="154" y="335" width="1" height="1" fill="#ffa500"/>
<rect x="155" y="335" width="1" height="1" fill="#ffa500"/>
<rect x="156" y="335" width="1" height="2" fill="#ffa500"/>
<rect x="157" y="335" width="1" height="2" fill="#ffa500"/>
<rect x="158" y="335" width="1" height="2" fill="#ffa500"/>
<rect x="159" y="335" width="1" height="2" fill="#ffa500"/>
<rect x="160" y="335" width="1" height="2" fill="#ffa500"/>
<rect x="161" y="335" width="1" height="1" fill="#ffa500"/>
<rect x="162" y="335" width="1" height="2" fill="#ffa500"/>
<rect x="163" y="335" width="1" height="2" fill="#ffa500"/>
<rect x="164" y="335" width="1" height="2" fill="#ffa500"/>
<rect x="165" y="335" width="1" height="2" fill="#ffa500"/>
<rect x="166" y="335" width="1" height="1" fill="#ffa500"/>
<rect x="167" y="335" width="1" height="1" fill="#ffa500"/>
<rect x="168" y="335" width="1" height="1" fill="#ffa500"/>
<rect x="169" y="335" width="1" height="1" fill="#ffa500"/>
<rect x="170" y="335" width="1" height="1" fill="#ffa500"/>
<rect x="171" y="335" width="1" height="2" fill="#ffa500"/>
<rect x="172" y="335" width="1" height="2" fill="#ffa500"/>
<rect x="173" y="335" width="1" height="2" fill="#ffa500"/>
<rect x="174" y="335" width="1" height="2" fill="#ffa500"/>
<rect x="175" y="335" width="1" height="2" fill="#ffa500"/>
<rect x="72" y="331" width="1" height="5" fill="#ffa500"/>
<rect x="73" y="332" width="1" height="4" fill="#ffa500"/>
<rect x="74" y="332" width="1" height="4" fill="#ffa500"/>
<rect x="75" y="331" width="1" height="6" fill="#ffa500"/>
<rect x="76" y="331" width="1" height="5" fill="#ffa500"/>
<rect x="77" y="332" width="1" height="4" fill="#ffa500"/>
<rect x="78" y="333" width="1" height="3" fill="#ffa500"/>
<rect x="79" y="331" width="1" height="5" fill="#ffa500"/>
<rect x="80" y="331" width="1" height="6" fill="#ffa500"/>
<rect x="81" y="332" width="1" height="4" fill="#ffa500"/>
<rect x="82" y="329" width="1" height="7" fill="#ffa500"/>
<rect x="83" y="332" width="1" height="4" fill="#ffa500"/>
<rect x="84" y="330" width="1" height="6" fill="#ffa500"/>
<rect x="85" y="331" width="1" height="5" fill="#ffa500"/>
<rect x="86" y="332" width="1" height="4" fill="#ffa500"/>
<rect x="87" y="332" width="1" height="4" fill="#ffa500"/>
<rect x="88" y="332" width="1" height="6" fill="#ffa500"/>
<rect x="89" y="326" width="1" height="13" fill="#ffa500"/>
<rect x="90" y="331" width="1" height="7" fill="#ffa500"/>
<rect x="91" y="332" width="1" height="4" fill="#ffa500"/>
<rect x="92" y="332" width="1" height="4" fill="#ffa500"/>
<rect x="93" y="332" width="1" height="4" fill="#ffa500"/>
<rect x="94" y="332" width="1" height="4" fill="#ffa500"/>
<rect x="95" y="332" width="1" height="4" fill="#ffa500"/>
<rect x="96" y="332" width="1" height="4" fill="#ffa500"/>
<rect x="97" y="333" width="1" height="3" fill="#ffa500"/>
<rect x="98" y="332" width="1" height="4" fill="#ffa500"/>
<rect x="99" y="332" width="1" height="4" fill="#ffa500"/>
<rect x="100" y="332" width="1" height="7" fill="#ffa500"/>
<rect x="101" y="332" width="1" height="4" fill="#ffa500"/>
<rect x="102" y="332" width="1" height="4" fill="#ffa500"/>
<rect x="103" y="333" width="1" height="8" fill="#ffa500"/>
<rect x="104" y="332" width="1" height="4" fill="#ffa500"/>
<rect x="105" y="331" width="1" height="5" fill="#ffa500"/>
<rect x="106" y="332" width="1" height="6" fill="#ffa500"/>
<rect x="107" y="332" width="1" height="4" fill="#ffa500"/>
<rect x="108" y="332" width="1" height="4" fill="#ffa500"/>
<rect x="109" y="332" width="1" height="4" fill="#ffa500"/>
<rect x="110" y="332" width="1" height="14" fill="#ffa500"/>
<rect x="111" y="332" width="1" height="4" fill="#ffa500"/>
<rect x="112" y="331" width="1" height="9" fill="#ffa500"/>
<rect x="113" y="332" width="1" height="4" fill="#ffa500"/>
<rect x="114" y="330" width="1" height="8" fill="#ffa500"/>
<rect x="115" y="332" width="1" height="6" fill="#ffa500"/>
<rect x="116" y="330" width="1" height="6" fill="#ffa500"/>
<rect x="117" y="329" width="1" height="7" fill="#ffa500"/>
<rect x="118" y="332" width="1" height="4" fill="#ffa500"/>
<rect x="119" y="331" width="1" height="6" fill="#ffa500"/>
<rect x="120" y="332" width="1" height="4" fill="#ffa500"/>
<rect x="121" y="331" width="1" height="5" fill="#ffa500"/>
<rect x="122" y="332" width="1" height="4" fill="#ffa500"/>
<rect x="123" y="333" width="1" height="3" fill="#ffa500"/>
<rect x="124" y="332" width="1" height="4" fill="#ffa500"/>
<rect x="125" y="333" width="1" height="3" fill="#ffa500"/>
<rect x="126" y="331" width="1" height="5" fill="#ffa500"/>
<rect x="127" y="332" width="1" height="4" fill="#ffa500"/>
<rect x="128" y="332" width="1" height="4" fill="#ffa500"/>
<rect x="129" y="331" width="1" height="7" fill="#ffa500"/>
<rect x="130" y="332" width="1" height="4" fill="#ffa500"/>
<rect x="131" y="331" width="1" height="5" fill="#ffa500"/>
<rect x="132" y="326" width="1" height="10" fill="#ffa500"/>
<rect x="133" y="332" width="1" height="4" fill="#ffa500"/>
<rect x="134" y="332" width="1" height="7" fill="#ffa500"/>
<rect x="135" y="331" width="1" height="5" fill="#ffa500"/>
<rect x="136" y="326" width="1" height="10" fill="#ffa500"/>
<rect x="137" y="332" width="1" height="4" fill="#ffa500"/>
<rect x="138" y="333" width="1" height="3" fill="#ffa500"/>
<rect x="139" y="332" width="1" height="4" fill="#ffa500"/>
<rect x="140" y="331" width="1" height="5" fill="#ffa500"/>
<rect x="141" y="331" width="1" height="5" fill="#ffa500"/>
<rect x="142" y="331" width="1" height="5" fill="#ffa500"/>
<rect x="143" y="327" width="1" height="10" fill="#ffa500"/>
<rect x="144" y="332" width="1" height="4" fill="#ffa500"/>
<rect x="145" y="331" width="1" height="6" fill="#ffa500"/>
<rect x="146" y="332" width="1" height="4" fill="#ffa500"/>
<rect x="147" y="331" width="1" height="12" fill="#ffa500"/>
<rect x="148" y="332" width="1" height="8" fill="#ffa500"/>
<rect x="149" y="333" width="1" height="3" fill="#ffa500"/>
<rect x="150" y="332" width="1" height="4" fill="#ffa500"/>
<rect x="151" y="332" width="1" height="4" fill="#ffa500"/>
<rect x="152" y="332" width="1" height="4" fill="#ffa500"/>
<rect x="153" y="330" width="1" height="6" fill="#ffa500"/>
<rect x="154" y="332" width="1" height="4" fill="#ffa500"/>
<rect x="155" y="333" width="1" height="3" fill="#ffa500"/>
<rect x="156" y="332" width="1" height="7" fill="#ffa500"/>
<rect x="157" y="332" width="1" height="4" fill="#ffa500"/>
<rect x="158" y="332" width="1" height="4" fill="#ffa500"/>
<rect x="159" y="332" width="1" height="4" fill="#ffa500"/>
<rect x="160" y="333" width="1" height="3" fill="#ffa500"/>
<rect x="161" y="332" width="1" height="5" fill="#ffa500"/>
<rect x="162" y="332" width="1" height="4" fill="#ffa500"/>
<rect x="163" y="332" width="1" height="4" fill="#ffa500"/>
<rect x="164" y="332" width="1" height="4" fill="#ffa500"/>
<rect x="165" y="331" width="1" height="5" fill="#ffa500"/>
<rect x="166" y="332" width="1" height="5" fill="#ffa500"/>
<rect x="167" y="328" width="1" height="8" fill="#ffa500"/>
<rect x="168" y="329" width="1" height="11" fill="#ffa500"/>
<rect x="169" y="330" width="1" height="6" fill="#ffa500"/>
<rect x="170" y="332" width="1" height="4" fill="#ffa500"/>
<rect x="171" y="333" width="1" height="6" fill="#ffa500"/>
<rect x="172" y="332" width="1" height="4" fill="#ffa500"/>
<rect x="173" y="332" width="1" height="4" fill="#ffa500"/>
<rect x="174" y="331" width="1" height="5" fill="#ffa500"/>
<rect x="175" y="332" width="1" height="4" fill="#ffa500"/>
<rect x="176" y="333" width="1" height="3" fill="#ffa500"/>
<rect x="177" y="331" width="1" height="5" fill="#ffa500"/>
<rect x="178" y="332" width="1" height="4" fill="#ffa500"/>
<rect x="179" y="332" width="1" height="4" fill="#ffa500"/>
<rect x="180" y="332" width="1" height="8" fill="#ffa500"/>
<rect x="181" y="330" width="1" height="6" fill="#ffa500"/>
<rect x="182" y="332" width="1" height="6" fill="#ffa500"/>
<rect x="183" y="332" width="1" height="4" fill="#ffa500"/>
<rect x="184" y="332" width="1" height="4" fill="#ffa500"/>
<rect x="185" y="332" width="1" height="4" fill="#ffa500"/>
<rect x="186" y="332" width="1" height="4" fill="#ffa500"/>
<rect x="187" y="331" width="1" height="5" fill="#ffa500"/>
<rect x="188" y="332" width="1" height="4" fill="#ffa500"/>
<rect x="189" y="333" width="1" height="3" fill="#ffa500"/>
<rect x="190" y="332" width="1" height="4" fill="#ffa500"/>
<rect x="191" y="331" width="1" height="5" fill="#ffa500"/>
<rect x="192" y="331" width="1" height="5" fill="#ffa500"/>
<rect x="193" y="329" width="1" height="7" fill="#ffa500"/>
<rect x="194" y="332" width="1" height="4" fill="#ffa500"/>
<rect x="195" y="332" width="1" height="4" fill="#ffa500"/>
<rect x="196" y="331" width="1" height="5" fill="#ffa500"/>
<rect x="197" y="332" width="1" height="4" fill="#ffa500"/>
<rect x="198" y="331" width="1" height="5" fill="#ffa500"/>
<rect x="199" y="332" width="1" height="4" fill="#ffa500"/>
<rect x="200" y="333" width="1" height="3" fill="#ffa500"/>
<rect x="201" y="333" width="1" height="3" fill="#ffa500"/>
<rect x="202" y="330" width="1" height="6" fill="#ffa500"/>
<rect x="203" y="331" width="1" height="5" fill="#ffa500"/>
<rect x="204" y="329" width="1" height="10" fill="#ffa500"/>
<rect x="205" y="331" width="1" height="5" fill="#ffa500"/>
<rect x="206" y="332" width="1" height="4" fill="#ffa500"/>
<rect x="207" y="332" width="1" height="4" fill="#ffa500"/>
<rect x="208" y="331" width="1" height="5" fill="#ffa500"/>
<rect x="209" y="331" width="1" height="5" fill="#ffa500"/>
<rect x="210" y="331" width="1" height="5" fill="#ffa500"/>
<rect x="211" y="332" width="1" height="4" fill="#ffa500"/>
<rect x="212" y="332" width="1" height="4" fill="#ffa500"/>
<rect x="213" y="332" width="1" height="4" fill="#ffa500"/>
<rect x="214" y="332" width="1" height="4" fill="#ffa500"/>
<rect x="215" y="331" width="1" height="5" fill="#ffa500"/>
<rect x="216" y="332" width="1" height="5" fill="#ffa500"/>
<rect x="217" y="331" width="1" height="6" fill="#ffa500"/>
<rect x="218" y="332" width="1" height="4" fill="#ffa500"/>
<rect x="219" y="332" width="1" height="4" fill="#ffa500"/>
<rect x="220" y="333" width="1" height="3" fill="#ffa500"/>
<rect x="221" y="333" width="1" height="4" fill="#ffa500"/>
<rect x="222" y="332" width="1" height="6" fill="#ffa500"/>
<rect x="223" y="332" width="1" height="4" fill="#ffa500"/>
<rect x="224" y="331" width="1" height="7" fill="#ffa500"/>
<rect x="225" y="331" width="1" height="5" fill="#ffa500"/>
<rect x="226" y="332" width="1" height="4" fill="#ffa500"/>
<rect x="227" y="331" width="1" height="7" fill="#ffa500"/>
<rect x="228" y="332" width="1" height="7" fill="#ffa500"/>
<rect x="229" y="332" width="1" height="4" fill="#ffa500"/>
<rect x="230" y="332" width="1" height="4" fill="#ffa500"/>
<rect x="231" y="332" width="1" height="12" fill="#ffa500"/>
<rect x="232" y="331" width="1" height="5" fill="#ffa500"/>
<rect x="233" y="325" width="1" height="12" fill="#ffa500"/>
<rect x="234" y="329" width="1" height="7" fill="#ffa500"/>
<rect x="235" y="331" width="1" height="5" fill="#ffa500"/>
<rect x="236" y="332" width="1" height="6" fill="#ffa500"/>
<rect x="237" y="322" width="1" height="14" fill="#ffa500"/>
<rect x="238" y="332" width="1" height="4" fill="#ffa500"/>
<rect x="239" y="332" width="1" height="4" fill="#ffa500"/>
<rect x="240" y="331" width="1" height="5" fill="#ffa500"/>
<rect x="241" y="331" width="1" height="5" fill="#ffa500"/>
<rect x="242" y="333" width="1" height="3" fill="#ffa500"/>
<rect x="243" y="332" width="1" height="4" fill="#ffa500"/>
<rect x="244" y="333" width="1" height="3" fill="#ffa500"/>
<rect x="245" y="329" width="1" height="7" fill="#ffa500"/>
<rect x="246" y="333" width="1" height="6" fill="#ffa500"/>
<rect x="247" y="333" width="1" height="3" fill="#ffa500"/>
<rect x="248" y="332" width="1" height="4" fill="#ffa500"/>
<rect x="249" y="333" width="1" height="3" fill="#ffa500"/>
<rect x="250" y="331" width="1" height="5" fill="#ffa500"/>
<rect x="251" y="332" width="1" height="4" fill="#ffa500"/>
<rect x="252" y="331" width="1" height="5" fill="#ffa500"/>
<rect x="253" y="331" width="1" height="5" fill="#ffa500"/>
<rect x="254" y="332" width="1" height="4" fill="#ffa500"/>
<rect x="255" y="331" width="1" height="12" fill="#ffa500"/>
<rect x="256" y="332" width="1" height="4" fill="#ffa500"/>
<rect x="257" y="332" width="1" height="4" fill="#ffa500"/>
<rect x="258" y="331" width="1" height="6" fill="#ffa500"/>
<rect x="259" y="332" width="1" height="4" fill="#ffa500"/>
<rect x="260" y="332" width="1" height="4" fill="#ffa500"/>
<rect x="261" y="332" width="1" height="4" fill="#ffa500"/>
<rect x="262" y="332" width="1" height="6" fill="#ffa500"/>
<rect x="263" y="332" width="1" height="4" fill="#ffa500"/>
<rect x="264" y="332" width="1" height="6" fill="#ffa500"/>
<rect x="265" y="332" width="1" height="4" fill="#ffa500"/>
<rect x="266" y="326" width="1" height="10" fill="#ffa500"/>
<rect x="267" y="331" width="1" height="5" fill="#ffa500"/>
<rect x="268" y="328" width="1" height="9" fill="#ffa500"/>
<rect x="269" y="332" width="1" height="4" fill="#ffa500"/>
<rect x="270" y="332" width="1" height="4" fill="#ffa500"/>
<rect x="271" y="331" width="1" height="5" fill="#ffa500"/>
<rect x="272" y="331" width="1" height="13" fill="#ffa500"/>
<rect x="273" y="332" width="1" height="4" fill="#ffa500"/>
<rect x="274" y="332" width="1" height="4" fill="#ffa500"/>
<rect x="275" y="332" width="1" height="4" fill="#ffa500"/>
<rect x="276" y="332" width="1" height="6" fill="#ffa500"/>
<rect x="277" y="329" width="1" height="7" fill="#ffa500"/>
<rect x="278" y="332" width="1" height="4" fill="#ffa500"/>
<rect x="279" y="332" width="1" height="4" fill="#ffa500"/>
<rect x="280" y="332" width="1" height="7" fill="#ffa500"/>
<rect x="281" y="331" width="1" height="11" fill="#ffa500"/>
<rect x="282" y="331" width="1" height="5" fill="#ffa500"/>
<rect x="283" y="332" width="1" height="8" fill="#ffa500"/>
<rect x="284" y="332" width="1" height="4" fill="#ffa500"/>
<rect x="285" y="331" width="1" height="6" fill="#ffa500"/>
<rect x="286" y="332" width="1" height="4" fill="#ffa500"/>
<rect x="287" y="332" width="1" height="4" fill="#ffa500"/>
<rect x="288" y="328" width="1" height="8" fill="#ffa500"/>
<rect x="289" y="333" width="1" height="3" fill="#ffa500"/>
<rect x="290" y="327" width="1" height="9" fill="#ffa500"/>
<rect x="291" y="332" width="1" height="7" fill="#ffa500"/>
<rect x="292" y="333" width="1" height="5" fill="#ffa500"/>
<rect x="293" y="331" width="1" height="6" fill="#ffa500"/>
<rect x="294" y="332" width="1" height="4" fill="#ffa500"/>
<rect x="295" y="331" width="1" height="8" fill="#ffa500"/>
<rect x="296" y="331" width="1" height="5" fill="#ffa500"/>
<rect x="297" y="331" width="1" height="5" fill="#ffa500"/>
<rect x="298" y="331" width="1" height="5" fill="#ffa500"/>
<rect x="299" y="332" width="1" height="6" fill="#ffa500"/>
<rect x="300" y="333" width="1" height="3" fill="#ffa500"/>
<rect x="301" y="332" width="1" height="4" fill="#ffa500"/>
<rect x="302" y="331" width="1" height="7" fill="#ffa500"/>
<rect x="303" y="332" width="1" height="4" fill="#ffa500"/>
<rect x="304" y="332" width="1" height="4" fill="#ffa500"/>
<rect x="305" y="332" width="1" height="4" fill="#ffa500"/>
<rect x="306" y="332" width="1" height="4" fill="#ffa500"/>
<rect x="307" y="332" width="1" height="4" fill="#ffa500"/>
<rect x="308" y="331" width="1" height="5" fill="#ffa500"/>
<rect x="309" y="332" width="1" height="4" fill="#ffa500"/>
<rect x="310" y="327" width="1" height="11" fill="#ffa500"/>
<rect x="311" y="331" width="1" height="8" fill="#ffa500"/>
<rect x="312" y="332" width="1" height="4" fill="#ffa500"/>
<rect x="313" y="332" width="1" height="4" fill="#ffa500"/>
<rect x="314" y="330" width="1" height="10" fill="#ffa500"/>
<rect x="315" y="332" width="1" height="4" fill="#ffa500"/>
<rect x="316" y="332" width="1" height="4" fill="#ffa500"/>
<rect x="317" y="331" width="1" height="5" fill="#ffa500"/>
<rect x="318" y="331" width="1" height="5" fill="#ffa500"/>
<rect x="319" y="332" width="1" height="4" fill="#ffa500"/>
<rect x="320" y="331" width="1" height="6" fill="#ffa500"/>
<rect x="321" y="332" width="1" height="4" fill="#ffa500"/>
<rect x="322" y="331" width="1" height="5" fill="#ffa500"/>
<rect x="323" y="331" width="1" height="5" fill="#ffa500"/>
<rect x="324" y="333" width="1" height="3" fill="#ffa500"/>
<rect x="325" y="332" width="1" height="4" fill="#ffa500"/>
<rect x="326" y="333" width="1" height="3" fill="#ffa500"/>
<rect x="327" y="333" width="1" height="3" fill="#ffa500"/>
<rect x="328" y="331" width="1" height="5" fill="#ffa500"/>
<rect x="329" y="332" width="1" height="4" fill="#ffa500"/>
<rect x="330" y="331" width="1" height="5" fill="#ffa500"/>
<rect x="331" y="328" width="1" height="8" fill="#ffa500"/>
<rect x="332" y="331" width="1" height="5" fill="#ffa500"/>
<rect x="333" y="331" width="1" height="5" fill="#ffa500"/>
<rect x="334" y="332" width="1" height="5" fill="#ffa500"/>
<rect x="335" y="332" width="1" height="4" fill="#ffa500"/>
<rect x="336" y="332" width="1" height="6" fill="#ffa500"/>
<rect x="337" y="332" width="1" height="4" fill="#ffa500"/>
<rect x="338" y="331" width="1" height="5" fill="#ffa500"/>
<rect x="339" y="332" width="1" height="4" fill="#ffa500"/>
<rect x="340" y="333" width="1" height="7" fill="#ffa500"/>
<rect x="341" y="332" width="1" height="4" fill="#ffa500"/>
<rect x="342" y="331" width="1" height="5" fill="#ffa500"/>
<rect x="343" y="332" width="1" height="4" fill="#ffa500"/>
<rect x="344" y="331" width="1" height="6" fill="#ffa500"/>
<rect x="345" y="331" width="1" height="5" fill="#ffa500"/>
<rect x="346" y="331" width="1" height="6" fill="#ffa500"/>
<rect x="347" y="330" width="1" height="11" fill="#ffa500"/>
<rect x="348" y="332" width="1" height="8" fill="#ffa500"/>
<rect x="349" y="331" width="1" height="5" fill="#ffa500"/>
<rect x="350" y="331" width="1" height="8" fill="#ffa500"/>
<rect x="351" y="333" width="1" height="3" fill="#ffa500"/>
<rect x="352" y="332" width="1" height="7" fill="#ffa500"/>
<rect x="353" y="330" width="1" height="8" fill="#ffa500"/>
<rect x="354" y="327" width="1" height="9" fill="#ffa500"/>
<rect x="355" y="331" width="1" height="5" fill="#ffa500"/>
<rect x="356" y="332" width="1" height="4" fill="#ffa500"/>
<rect x="357" y="331" width="1" height="5" fill="#ffa500"/>
<rect x="358" y="332" width="1" height="4" fill="#ffa500"/>
<rect x="359" y="332" width="1" height="4" fill="#ffa500"/>
<rect x="360" y="331" width="1" height="11" fill="#ffa500"/>
<rect x="361" y="332" width="1" height="4" fill="#ffa500"/>
<rect x="362" y="331" width="1" height="5" fill="#ffa500"/>
<rect x="363" y="331" width="1" height="5" fill="#ffa500"/>
<rect x="364" y="332" width="1" height="4" fill="#ffa500"/>
<rect x="365" y="332" width="1" height="4" fill="#ffa500"/>
<rect x="366" y="331" width="1" height="8" fill="#ffa500"/>
<rect x="367" y="332" width="1" height="4" fill="#ffa500"/>
<rect x="368" y="331" width="1" height="5" fill="#ffa500"/>
<rect x="369" y="333" width="1" height="4" fill="#ffa500"/>
<rect x="370" y="332" width="1" height="4" fill="#ffa500"/>
<rect x="371" y="332" width="1" height="4" fill="#ffa500"/>
<rect x="372" y="325" width="1" height="12" fill="#ffa500"/>
<rect x="373" y="330" width="1" height="6" fill="#ffa500"/>
<rect x="374" y="331" width="1" height="6" fill="#ffa500"/>
<rect x="375" y="331" width="1" height="6" fill="#ffa500"/>
<rect x="376" y="330" width="1" height="6" fill="#ffa500"/>
<rect x="377" y="331" width="1" height="13" fill="#ffa500"/>
<rect x="378" y="332" width="1" height="4" fill="#ffa500"/>
<rect x="379" y="332" width="1" height="4" fill="#ffa500"/>
<rect x="380" y="332" width="1" height="5" fill="#ffa500"/>
<rect x="381" y="332" width="1" height="12" fill="#ffa500"/>
<rect x="382" y="330" width="1" height="6" fill="#ffa500"/>
<rect x="383" y="331" width="1" height="5" fill="#ffa500"/>
<rect x="384" y="332" width="1" height="4" fill="#ffa500"/>
<rect x="385" y="331" width="1" height="5" fill="#ffa500"/>
<rect x="386" y="333" width="1" height="3" fill="#ffa500"/>
<rect x="387" y="331" width="1" height="5" fill="#ffa500"/>
<rect x="388" y="332" width="1" height="4" fill="#ffa500"/>
<rect x="389" y="332" width="1" height="4" fill="#ffa500"/>
<rect x="390" y="332" width="1" height="6" fill="#ffa500"/>
<rect x="391" y="332" width="1" height="4" fill="#ffa500"/>
<rect x="392" y="332" width="1" height="4" fill="#ffa500"/>
<rect x="393" y="333" width="1" height="3" fill="#ffa500"/>
<rect x="394" y="332" width="1" height="4" fill="#ffa500"/>
<rect x="395" y="327" width="1" height="9" fill="#ffa500"/>
<rect x="396" y="333" width="1" height="5" fill="#ffa500"/>
<rect x="397" y="332" width="1" height="21" fill="#ffa500"/>
<rect x="398" y="331" width="1" height="5" fill="#ffa500"/>
<rect x="399" y="332" width="1" height="4" fill="#ffa500"/>
<rect x="400" y="332" width="1" height="4" fill="#ffa500"/>
<rect x="401" y="330" width="1" height="6" fill="#ffa500"/>
<rect x="402" y="329" width="1" height="7" fill="#ffa500"/>
<rect x="403" y="330" width="1" height="6" fill="#ffa500"/>
<rect x="404" y="330" width="1" height="16" fill="#ffa500"/>
<rect x="405" y="332" width="1" height="4" fill="#ffa500"/>
<rect x="406" y="328" width="1" height="8" fill="#ffa500"/>
<rect x="407" y="330" width="1" height="6" fill="#ffa500"/>
<rect x="408" y="329" width="1" height="7" fill="#ffa500"/>
<rect x="409" y="333" width="1" height="3" fill="#ffa500"/>
<rect x="410" y="331" width="1" height="5" fill="#ffa500"/>
<rect x="411" y="332" width="1" height="4" fill="#ffa500"/>
<rect x="412" y="327" width="1" height="9" fill="#ffa500"/>
<rect x="413" y="327" width="1" height="9" fill="#ffa500"/>
<rect x="414" y="332" width="1" height="4" fill="#ffa500"/>
<rect x="415" y="332" width="1" height="4" fill="#ffa500"/>
<rect x="416" y="329" width="1" height="7" fill="#ffa500"/>
<rect x="417" y="331" width="1" height="7" fill="#ffa500"/>
<rect x="418" y="333" width="1" height="3" fill="#ffa500"/>
<rect x="419" y="332" width="1" height="4" fill="#ffa500"/>
<rect x="420" y="332" width="1" height="4" fill="#ffa500"/>
<rect x="421" y="333" width="1" height="3" fill="#ffa500"/>
<rect x="422" y="331" width="1" height="5" fill="#ffa500"/>
<rect x="423" y="333" width="1" height="4" fill="#ffa500"/>
<rect x="72" y="335" width="1" height="3" fill="#0020ff"/>
<rect x="73" y="335" width="1" height="3" fill="#0020ff"/>
<rect x="74" y="335" width="1" height="2" fill="#0020ff"/>
<rect x="75" y="336" width="1" height="2" fill="#0020ff"/>
<rect x="76" y="335" width="1" height="3" fill="#0020ff"/>
<rect x="77" y="336" width="1" height="2" fill="#0020ff"/>
<rect x="78" y="335" width="1" height="3" fill="#0020ff"/>
<rect x="79" y="335" width="1" height="3" fill="#0020ff"/>
<rect x="80" y="334" width="1" height="3" fill="#0020ff"/>
<rect x="81" y="335" width="1" height="3" fill="#0020ff"/>
<rect x="82" y="335" width="1" height="3" fill="#0020ff"/>
<rect x="83" y="335" width="1" height="3" fill="#0020ff"/>
<rect x="84" y="335" width="1" height="3" fill="#0020ff"/>
<rect x="85" y="335" width="1" height="3" fill="#0020ff"/>
<rect x="86" y="335" width="1" height="3" fill="#0020ff"/>
<rect x="87" y="336" width="1" height="2" fill="#0020ff"/>
<rect x="88" y="335" width="1" height="3" fill="#0020ff"/>
<rect x="89" y="335" width="1" height="3" fill="#0020ff"/>
<rect x="90" y="335" width="1" height="3" fill="#0020ff"/>
<rect x="91" y="336" width="1" height="2" fill="#0020ff"/>
<rect x="92" y="335" width="1" height="3" fill="#0020ff"/>
<rect x="93" y="335" width="1" height="6" fill="#0020ff"/>
<rect x="94" y="335" width="1" height="3" fill="#0020ff"/>
<rect x="95" y="335" width="1" height="3" fill="#0020ff"/>
<rect x="96" y="335" width="1" height="3" fill="#0020ff"/>
<rect x="97" y="336" width="1" height="1" fill="#0020ff"/>
<rect x="98" y="335" width="1" height="3" fill="#0020ff"/>
<rect x="99" y="335" width="1" height="3" fill="#0020ff"/>
<rect x="100" y="335" width="1" height="3" fill="#0020ff"/>
<rect x="101" y="335" width="1" height="3" fill="#0020ff"/>
<rect x="102" y="335" width="1" height="3" fill="#0020ff"/>
<rect x="103" y="335" width="1" height="3" fill="#0020ff"/>
<rect x="104" y="335" width="1" height="2" fill="#0020ff"/>
<rect x="105" y="335" width="1" height="3" fill="#0020ff"/>
<rect x="106" y="335" width="1" height="3" fill="#0020ff"/>
<rect x="107" y="334" width="1" height="4" fill="#0020ff"/>
<rect x="108" y="335" width="1" height="2" fill="#0020ff"/>
<rect x="109" y="335" width="1" height="3" fill="#0020ff"/>
<rect x="110" y="335" width="1" height="3" fill="#0020ff"/>
<rect x="111" y="335" width="1" height="3" fill="#0020ff"/>
<rect x="112" y="335" width="1" height="3" fill="#0020ff"/>
<rect x="113" y="335" width="1" height="3" fill="#0020ff"/>
<rect x="114" y="336" width="1" height="1" fill="#0020ff"/>
<rect x="115" y="335" width="1" height="3" fill="#0020ff"/>
<rect x="116" y="336" width="1" height="2" fill="#0020ff"/>
<rect x="117" y="335" width="1" height="3" fill="#0020ff"/>
<rect x="118" y="335" width="1" height="3" fill="#0020ff"/>
<rect x="119" y="335" width="1" height="3" fill="#0020ff"/>
<rect x="120" y="335" width="1" height="3" fill="#0020ff"/>
<rect x="121" y="334" width="1" height="3" fill="#0020ff"/>
<rect x="122" y="335" width="1" height="3" fill="#0020ff"/>
<rect x="123" y="335" width="1" height="3" fill="#0020ff"/>
<rect x="124" y="335" width="1" height="2" fill="#0020ff"/>
<rect x="125" y="336" width="1" height="2" fill="#0020ff"/>
<rect x="126" y="335" width="1" height="2" fill="#0020ff"/>
<rect x="127" y="335" width="1" height="3" fill="#0020ff"/>
<rect x="128" y="335" width="1" height="4" fill="#0020ff"/>
<rect x="129" y="335" width="1" height="3" fill="#0020ff"/>
<rect x="130" y="334" width="1" height="4" fill="#0020ff"/>
<rect x="131" y="335" width="1" height="3" fill="#0020ff"/>
<rect x="132" y="336" width="1" height="2" fill="#0020ff"/>
<rect x="133" y="335" width="1" height="3" fill="#0020ff"/>
<rect x="134" y="336" width="1" height="1" fill="#0020ff"/>
<rect x="135" y="336" width="1" height="2" fill="#0020ff"/>
<rect x="136" y="335" width="1" height="3" fill="#0020ff"/>
<rect x="137" y="334" width="1" height="5" fill="#0020ff"/>
<rect x="138" y="334" width="1" height="4" fill="#0020ff"/>
<rect x="139" y="335" width="1" height="3" fill="#0020ff"/>
<rect x="140" y="335" width="1" height="3" fill="#0020ff"/>
<rect x="141" y="336" width="1" height="1" fill="#0020ff"/>
<rect x="142" y="335" width="1" height="2" fill="#0020ff"/>
<rect x="143" y="335" width="1" height="3" fill="#0020ff"/>
<rect x="144" y="335" width="1" height="3" fill="#0020ff"/>
<rect x="145" y="334" width="1" height="3" fill="#0020ff"/>
<rect x="146" y="334" width="1" height="3" fill="#0020ff"/>
<rect x="147" y="333" width="1" height="4" fill="#0020ff"/>
<rect x="148" y="334" width="1" height="3" fill="#0020ff"/>
<rect x="149" y="334" width="1" height="2" fill="#0020ff"/>
<rect x="150" y="334" width="1" height="2" fill="#0020ff"/>
<rect x="151" y="333" width="1" height="2" fill="#0020ff"/>
<rect x="152" y="334" width="1" height="1" fill="#0020ff"/>
<rect x="153" y="333" width="1" height="3" fill="#0020ff"/>
<rect x="154" y="333" width="1" height="3" fill="#0020ff"/>
<rect x="155" y="333" width="1" height="4" fill="#0020ff"/>
<rect x="156" y="332" width="1" height="3" fill="#0020ff"/>
<rect x="157" y="333" width="1" height="4" fill="#0020ff"/>
<rect x="158" y="334" width="1" height="2" fill="#0020ff"/>
<rect x="159" y="333" width="1" height="3" fill="#0020ff"/>
<rect x="160" y="333" width="1" height="3" fill="#0020ff"/>
<rect x="161" y="333" width="1" height="3" fill="#0020ff"/>
<rect x="162" y="333" width="1" height="3" fill="#0020ff"/>
<rect x="163" y="333" width="1" height="3" fill="#0020ff"/>
<rect x="164" y="333" width="1" height="3" fill="#0020ff"/>
<rect x="165" y="333" width="1" height="3" fill="#0020ff"/>
<rect x="166" y="333" width="1" height="3" fill="#0020ff"/>
<rect x="167" y="332" width="1" height="4" fill="#0020ff"/>
<rect x="168" y="333" width="1" height="3" fill="#0020ff"/>
<rect x="169" y="335" width="1" height="1" fill="#0020ff"/>
<rect x="170" y="334" width="1" height="3" fill="#0020ff"/>
<rect x="171" y="334" width="1" height="2" fill="#0020ff"/>
<rect x="172" y="334" width="1" height="3" fill="#0020ff"/>
<rect x="173" y="334" width="1" height="4" fill="#0020ff"/>
<rect x="174" y="334" width="1" height="3" fill="#0020ff"/>
<rect x="175" y="334" width="1" height="3" fill="#0020ff"/>
<rect x="176" y="334" width="1" height="4" fill="#0020ff"/>
<rect x="177" y="336" width="1" height="2" fill="#0020ff"/>
<rect x="178" y="335" width="1" height="3" fill="#0020ff"/>
<rect x="179" y="334" width="1" height="4" fill="#0020ff"/>
<rect x="180" y="334" width="1" height="5" fill="#0020ff"/>
<rect x="181" y="335" width="1" height="3" fill="#0020ff"/>
<rect x="182" y="335" width="1" height="3" fill="#0020ff"/>
<rect x="183" y="334" width="1" height="4" fill="#0020ff"/>
<rect x="184" y="335" width="1" height="3" fill="#0020ff"/>
<rect x="185" y="335" width="1" height="3" fill="#0020ff"/>
<rect x="186" y="335" width="1" height="2" fill="#0020ff"/>
<rect x="187" y="335" width="1" height="4" fill="#0020ff"/>
<rect x="188" y="335" width="1" height="3" fill="#0020ff"/>
<rect x="189" y="335" width="1" height="5" fill="#0020ff"/>
<rect x="190" y="335" width="1" height="3" fill="#0020ff"/>
<rect x="191" y="335" width="1" height="3" fill="#0020ff"/>
<rect x="192" y="335" width="1" height="3" fill="#0020ff"/>
<rect x="193" y="335" width="1" height="3" fill="#0020ff"/>
<rect x="194" y="334" width="1" height="5" fill="#0020ff"/>
<rect x="195" y="335" width="1" height="4" fill="#0020ff"/>
<rect x="196" y="336" width="1" height="2" fill="#0020ff"/>
<rect x="197" y="334" width="1" height="4" fill="#0020ff"/>
<rect x="198" y="335" width="1" height="3" fill="#0020ff"/>
<rect x="199" y="335" width="1" height="3" fill="#0020ff"/>
<rect x="200" y="335" width="1" height="3" fill="#0020ff"/>
<rect x="201" y="335" width="1" height="3" fill="#0020ff"/>
<rect x="202" y="336" width="1" height="2" fill="#0020ff"/>
<rect x="203" y="335" width="1" height="4" fill="#0020ff"/>
<rect x="204" y="335" width="1" height="3" fill="#0020ff"/>
<rect x="205" y="335" width="1" height="4" fill="#0020ff"/>
<rect x="206" y="336" width="1" height="2" fill="#0020ff"/>
<rect x="207" y="335" width="1" height="3" fill="#0020ff"/>
<rect x="208" y="335" width="1" height="3" fill="#0020ff"/>
<rect x="209" y="335" width="1" height="2" fill="#0020ff"/>
<rect x="210" y="335" width="1" height="2" fill="#0020ff"/>
<rect x="211" y="335" width="1" height="3" fill="#0020ff"/>
<rect x="212" y="335" width="1" height="3" fill="#0020ff"/>
<rect x="213" y="336" width="1" height="3" fill="#0020ff"/>
<rect x="214" y="335" width="1" height="3" fill="#0020ff"/>
<rect x="215" y="334" width="1" height="5" fill="#0020ff"/>
<rect x="216" y="335" width="1" height="2" fill="#0020ff"/>
<rect x="217" y="335" width="1" height="4" fill="#0020ff"/>
<rect x="218" y="336" width="1" height="2" fill="#0020ff"/>
<rect x="219" y="335" width="1" height="3" fill="#0020ff"/>
<rect x="220" y="335" width="1" height="2" fill="#0020ff"/>
<rect x="221" y="335" width="1" height="3" fill="#0020ff"/>
<rect x="222" y="336" width="1" height="4" fill="#0020ff"/>
<rect x="223" y="335" width="1" height="3" fill="#0020ff"/>
<rect x="224" y="334" width="1" height="4" fill="#0020ff"/>
<rect x="225" y="335" width="1" height="3" fill="#0020ff"/>
<rect x="226" y="335" width="1" height="3" fill="#0020ff"/>
<rect x="227" y="335" width="1" height="3" fill="#0020ff"/>
<rect x="228" y="335" width="1" height="3" fill="#0020ff"/>
<rect x="229" y="336" width="1" height="2" fill="#0020ff"/>
<rect x="230" y="334" width="1" height="4" fill="#0020ff"/>
<rect x="231" y="335" width="1" height="4" fill="#0020ff"/>
<rect x="232" y="335" width="1" height="3" fill="#0020ff"/>
<rect x="233" y="335" width="1" height="3" fill="#0020ff"/>
<rect x="234" y="335" width="1" height="3" fill="#0020ff"/>
<rect x="235" y="335" width="1" height="2" fill="#0020ff"/>
<rect x="236" y="335" width="1" height="3" fill="#0020ff"/>
<rect x="237" y="335" width="1" height="3" fill="#0020ff"/>
<rect x="238" y="335" width="1" height="3" fill="#0020ff"/>
<rect x="239" y="335" width="1" height="4" fill="#0020ff"/>
<rect x="240" y="335" width="1" height="4" fill="#0020ff"/>
<rect x="241" y="335" width="1" height="3" fill="#0020ff"/>
<rect x="242" y="335" width="1" height="4" fill="#0020ff"/>
<rect x="243" y="335" width="1" height="3" fill="#0020ff"/>
<rect x="244" y="336" width="1" height="3" fill="#0020ff"/>
<rect x="245" y="335" width="1" height="3" fill="#0020ff"/>
<rect x="246" y="335" width="1" height="3" fill="#0020ff"/>
<rect x="247" y="335" width="1" height="3" fill="#0020ff"/>
<rect x="248" y="335" width="1" height="2" fill="#0020ff"/>
<rect x="249" y="335" width="1" height="3" fill="#0020ff"/>
<rect x="250" y="334" width="1" height="4" fill="#0020ff"/>
<rect x="251" y="335" width="1" height="3" fill="#0020ff"/>
<rect x="252" y="335" width="1" height="3" fill="#0020ff"/>
<rect x="253" y="335" width="1" height="3" fill="#0020ff"/>
<rect x="254" y="335" width="1" height="4" fill="#0020ff"/>
<rect x="255" y="334" width="1" height="4" fill="#0020ff"/>
<rect x="256" y="335" width="1" height="3" fill="#0020ff"/>
<rect x="257" y="335" width="1" height="3" fill="#0020ff"/>
<rect x="258" y="335" width="1" height="3" fill="#0020ff"/>
<rect x="259" y="335" width="1" height="3" fill="#0020ff"/>
<rect x="260" y="335" width="1" height="4" fill="#0020ff"/>
<rect x="261" y="336" width="1" height="2" fill="#0020ff"/>
<rect x="262" y="335" width="1" height="3" fill="#0020ff"/>
<rect x="263" y="335" width="1" height="3" fill="#0020ff"/>
<rect x="264" y="335" width="1" height="3" fill="#0020ff"/>
<rect x="265" y="336" width="1" height="2" fill="#0020ff"/>
<rect x="266" y="335" width="1" height="4" fill="#0020ff"/>
<rect x="267" y="334" width="1" height="4" fill="#0020ff"/>
<rect x="268" y="335" width="1" height="3" fill="#0020ff"/>
<rect x="269" y="334" width="1" height="4" fill="#0020ff"/>
<rect x="270" y="335" width="1" height="4" fill="#0020ff"/>
<rect x="271" y="335" width="1" height="4" fill="#0020ff"/>
<rect x="272" y="335" width="1" height="3" fill="#0020ff"/>
<rect x="273" y="335" width="1" height="3" fill="#0020ff"/>
<rect x="274" y="335" width="1" height="2" fill="#0020ff"/>
<rect x="275" y="335" width="1" height="3" fill="#0020ff"/>
<rect x="276" y="335" width="1" height="3" fill="#0020ff"/>
<rect x="277" y="335" width="1" height="3" fill="#0020ff"/>
<rect x="278" y="335" width="1" height="3" fill="#0020ff"/>
<rect x="279" y="335" width="1" height="3" fill="#0020ff"/>
<rect x="280" y="336" width="1" height="2" fill="#0020ff"/>
<rect x="281" y="335" width="1" height="3" fill="#0020ff"/>
<rect x="282" y="335" width="1" height="3" fill="#0020ff"/>
<rect x="283" y="335" width="1" height="3" fill="#0020ff"/>
<rect x="284" y="335" width="1" height="3" fill="#0020ff"/>
<rect x="285" y="335" width="1" height="2" fill="#0020ff"/>
<rect x="286" y="335" width="1" height="3" fill="#0020ff"/>
<rect x="287" y="335" width="1" height="4" fill="#0020ff"/>
<rect x="288" y="335" width="1" height="3" fill="#0020ff"/>
<rect x="289" y="336" width="1" height="2" fill="#0020ff"/>
<rect x="290" y="335" width="1" height="3" fill="#0020ff"/>
<rect x="291" y="335" width="1" height="3" fill="#0020ff"/>
<rect x="292" y="335" width="1" height="3" fill="#0020ff"/>
<rect x="293" y="336" width="1" height="2" fill="#0020ff"/>
<rect x="294" y="335" width="1" height="3" fill="#0020ff"/>
<rect x="295" y="335" width="1" height="3" fill="#0020ff"/>
<rect x="296" y="333" width="1" height="5" fill="#0020ff"/>
<rect x="297" y="335" width="1" height="4" fill="#0020ff"/>
<rect x="298" y="336" width="1" height="2" fill="#0020ff"/>
<rect x="299" y="335" width="1" height="3" fill="#0020ff"/>
<rect x="300" y="334" width="1" height="5" fill="#0020ff"/>
<rect x="301" y="335" width="1" height="3" fill="#0020ff"/>
<rect x="302" y="335" width="1" height="3" fill="#0020ff"/>
<rect x="303" y="335" width="1" height="3" fill="#0020ff"/>
<rect x="304" y="335" width="1" height="3" fill="#0020ff"/>
<rect x="305" y="335" width="1" height="4" fill="#0020ff"/>
<rect x="306" y="335" width="1" height="3" fill="#0020ff"/>
<rect x="307" y="335" width="1" height="3" fill="#0020ff"/>
<rect x="308" y="334" width="1" height="3" fill="#0020ff"/>
<rect x="309" y="335" width="1" height="3" fill="#0020ff"/>
<rect x="310" y="336" width="1" height="3" fill="#0020ff"/>
<rect x="311" y="335" width="1" height="3" fill="#0020ff"/>
<rect x="312" y="335" width="1" height="3" fill="#0020ff"/>
<rect x="313" y="335" width="1" height="3" fill="#0020ff"/>
<rect x="314" y="335" width="1" height="5" fill="#0020ff"/>
<rect x="315" y="335" width="1" height="3" fill="#0020ff"/>
<rect x="316" y="335" width="1" height="3" fill="#0020ff"/>
<rect x="317" y="335" width="1" height="3" fill="#0020ff"/>
<rect x="318" y="334" width="1" height="4" fill="#0020ff"/>
<rect x="319" y="335" width="1" height="4" fill="#0020ff"/>
<rect x="320" y="335" width="1" height="3" fill="#0020ff"/>
<rect x="321" y="335" width="1" height="3" fill="#0020ff"/>
<rect x="322" y="335" width="1" height="3" fill="#0020ff"/>
<rect x="323" y="335" width="1" height="4" fill="#0020ff"/>
<rect x="324" y="332" width="1" height="5" fill="#0020ff"/>
<rect x="325" y="335" width="1" height="4" fill="#0020ff"/>
<rect x="326" y="335" width="1" height="3" fill="#0020ff"/>
<rect x="327" y="336" width="1" height="3" fill="#0020ff"/>
<rect x="328" y="335" width="1" height="3" fill="#0020ff"/>
<rect x="329" y="335" width="1" height="3" fill="#0020ff"/>
<rect x="330" y="335" width="1" height="2" fill="#0020ff"/>
<rect x="331" y="335" width="1" height="3" fill="#0020ff"/>
<rect x="332" y="335" width="1" height="2" fill="#0020ff"/>
<rect x="333" y="335" width="1" height="3" fill="#0020ff"/>
<rect x="334" y="334" width="1" height="3" fill="#0020ff"/>
<rect x="335" y="335" width="1" height="3" fill="#0020ff"/>
<rect x="336" y="335" width="1" height="6" fill="#0020ff"/>
<rect x="337" y="335" width="1" height="3" fill="#0020ff"/>
<rect x="338" y="335" width="1" height="5" fill="#0020ff"/>
<rect x="339" y="335" width="1" height="2" fill="#0020ff"/>
<rect x="340" y="335" width="1" height="3" fill="#0020ff"/>
<rect x="341" y="335" width="1" height="3" fill="#0020ff"/>
<rect x="342" y="335" width="1" height="3" fill="#0020ff"/>
<rect x="343" y="335" width="1" height="3" fill="#0020ff"/>
<rect x="344" y="334" width="1" height="5" fill="#0020ff"/>
<rect x="345" y="335" width="1" height="3" fill="#0020ff"/>
<rect x="346" y="335" width="1" height="3" fill="#0020ff"/>
<rect x="347" y="335" width="1" height="3" fill="#0020ff"/>
<rect x="348" y="335" width="1" height="3" fill="#0020ff"/>
<rect x="349" y="334" width="1" height="4" fill="#0020ff"/>
<rect x="350" y="335" width="1" height="3" fill="#0020ff"/>
<rect x="351" y="335" width="1" height="2" fill="#0020ff"/>
<rect x="352" y="334" width="1" height="4" fill="#0020ff"/>
<rect x="353" y="335" width="1" height="6" fill="#0020ff"/>
<rect x="354" y="335" width="1" height="4" fill="#0020ff"/>
<rect x="355" y="336" width="1" height="2" fill="#0020ff"/>
<rect x="356" y="335" width="1" height="3" fill="#0020ff"/>
<rect x="357" y="335" width="1" height="3" fill="#0020ff"/>
<rect x="358" y="335" width="1" height="2" fill="#0020ff"/>
<rect x="359" y="335" width="1" height="2" fill="#0020ff"/>
<rect x="360" y="335" width="1" height="3" fill="#0020ff"/>
<rect x="361" y="334" width="1" height="4" fill="#0020ff"/>
<rect x="362" y="335" width="1" height="3" fill="#0020ff"/>
<rect x="363" y="335" width="1" height="3" fill="#0020ff"/>
<rect x="364" y="335" width="1" height="3" fill="#0020ff"/>
<rect x="365" y="335" width="1" height="3" fill="#0020ff"/>
<rect x="366" y="335" width="1" height="3" fill="#0020ff"/>
<rect x="367" y="335" width="1" height="2" fill="#0020ff"/>
<rect x="368" y="334" width="1" height="4" fill="#0020ff"/>
<rect x="369" y="335" width="1" height="3" fill="#0020ff"/>
<rect x="370" y="336" width="1" height="2" fill="#0020ff"/>
<rect x="371" y="334" width="1" height="4" fill="#0020ff"/>
<rect x="372" y="336" width="1" height="2" fill="#0020ff"/>
<rect x="373" y="336" width="1" height="2" fill="#0020ff"/>
<rect x="374" y="334" width="1" height="4" fill="#0020ff"/>
<rect x="375" y="335" width="1" height="2" fill="#0020ff"/>
<rect x="376" y="335" width="1" height="3" fill="#0020ff"/>
<rect x="377" y="335" width="1" height="3" fill="#0020ff"/>
<rect x="378" y="335" width="1" height="3" fill="#0020ff"/>
<rect x="379" y="336" width="1" height="2" fill="#0020ff"/>
<rect x="380" y="335" width="1" height="3" fill="#0020ff"/>
<rect x="381" y="335" width="1" height="3" fill="#0020ff"/>
<rect x="382" y="335" width="1" height="3" fill="#0020ff"/>
<rect x="383" y="335" width="1" height="3" fill="#0020ff"/>
<rect x="384" y="335" width="1" height="3" fill="#0020ff"/>
<rect x="385" y="336" width="1" height="2" fill="#0020ff"/>
<rect x="386" y="335" width="1" height="2" fill="#0020ff"/>
<rect x="387" y="335" width="1" height="2" fill="#0020ff"/>
<rect x="388" y="335" width="1" height="3" fill="#0020ff"/>
<rect x="389" y="333" width="1" height="6" fill="#0020ff"/>
<rect x="390" y="335" width="1" height="3" fill="#0020ff"/>
<rect x="391" y="335" width="1" height="3" fill="#0020ff"/>
<rect x="392" y="335" width="1" height="3" fill="#0020ff"/>
<rect x="393" y="335" width="1" height="3" fill="#0020ff"/>
<rect x="394" y="335" width="1" height="3" fill="#0020ff"/>
<rect x="395" y="334" width="1" height="4" fill="#0020ff"/>
<rect x="396" y="335" width="1" height="3" fill="#0020ff"/>
<rect x="397" y="335" width="1" height="3" fill="#0020ff"/>
<rect x="398" y="335" width="1" height="3" fill="#0020ff"/>
<rect x="399" y="335" width="1" height="3" fill="#0020ff"/>
<rect x="400" y="336" width="1" height="3" fill="#0020ff"/>
<rect x="401" y="335" width="1" height="3" fill="#0020ff"/>
<rect x="402" y="335" width="1" height="4" fill="#0020ff"/>
<rect x="403" y="335" width="1" height="2" fill="#0020ff"/>
<rect x="404" y="335" width="1" height="3" fill="#0020ff"/>
<rect x="405" y="336" width="1" height="2" fill="#0020ff"/>
<rect x="406" y="335" width="1" height="3" fill="#0020ff"/>
<rect x="407" y="335" width="1" height="3" fill="#0020ff"/>
<rect x="408" y="335" width="1" height="3" fill="#0020ff"/>
<rect x="409" y="336" width="1" height="2" fill="#0020ff"/>
<rect x="410" y="335" width="1" height="3" fill="#0020ff"/>
<rect x="411" y="335" width="1" height="2" fill="#0020ff"/>
<rect x="412" y="335" width="1" height="3" fill="#0020ff"/>
<rect x="413" y="335" width="1" height="3" fill="#0020ff"/>
<rect x="414" y="335" width="1" height="3" fill="#0020ff"/>
<rect x="415" y="335" width="1" height="3" fill="#0020ff"/>
<rect x="416" y="335" width="1" height="3" fill="#0020ff"/>
<rect x="417" y="335" width="1" height="3" fill="#0020ff"/>
<rect x="418" y="335" width="1" height="3" fill="#0020ff"/>
<rect x="419" y="334" width="1" height="4" fill="#0020ff"/>
<rect x="420" y="334" width="1" height="4" fill="#0020ff"/>
<rect x="421" y="335" width="1" height="3" fill="#0020ff"/>
<rect x="422" y="335" width="1" height="3" fill="#0020ff"/>
<rect x="423" y="335" width="1" height="3" fill="#0020ff"/>
<rect x="72" y="315" width="1" height="1" fill="#ff0000"/>
<rect x="73" y="314" width="1" height="3" fill="#ff0000"/>
<rect x="74" y="314" width="1" height="3" fill="#ff0000"/>
<rect x="75" y="313" width="1" height="4" fill="#ff0000"/>
<rect x="76" y="314" width="1" height="3" fill="#ff0000"/>
<rect x="77" y="314" width="1" height="2" fill="#ff0000"/>
<rect x="78" y="313" width="1" height="3" fill="#ff0000"/>
<rect x="79" y="313" width="1" height="3" fill="#ff0000"/>
<rect x="80" y="314" width="1" height="2" fill="#ff0000"/>
<rect x="81" y="313" width="1" height="3" fill="#ff0000"/>
<rect x="82" y="313" width="1" height="2" fill="#ff0000"/>
<rect x="83" y="314" width="1" height="2" fill="#ff0000"/>
<rect x="84" y="314" width="1" height="1" fill="#ff0000"/>
<rect x="85" y="313" width="1" height="3" fill="#ff0000"/>
<rect x="86" y="314" width="1" height="2" fill="#ff0000"/>
<rect x="87" y="314" width="1" height="2" fill="#ff0000"/>
<rect x="88" y="314" width="1" height="1" fill="#ff0000"/>
<rect x="89" y="315" width="1" height="2" fill="#ff0000"/>
<rect x="90" y="314" width="1" height="3" fill="#ff0000"/>
<rect x="91" y="313" width="1" height="3" fill="#ff0000"/>
<rect x="92" y="314" width="1" height="2" fill="#ff0000"/>
<rect x="93" y="314" width="1" height="2" fill="#ff0000"/>
<rect x="94" y="314" width="1" height="2" fill="#ff0000"/>
<rect x="95" y="313" width="1" height="3" fill="#ff0000"/>
<rect x="96" y="313" width="1" height="2" fill="#ff0000"/>
<rect x="97" y="314" width="1" height="2" fill="#ff0000"/>
<rect x="98" y="314" width="1" height="3" fill="#ff0000"/>
<rect x="99" y="314" width="1" height="2" fill="#ff0000"/>
<rect x="100" y="313" width="1" height="4" fill="#ff0000"/>
<rect x="101" y="314" width="1" height="3" fill="#ff0000"/>
<rect x="102" y="313" width="1" height="3" fill="#ff0000"/>
<rect x="103" y="314" width="1" height="3" fill="#ff0000"/>
<rect x="104" y="314" width="1" height="2" fill="#ff0000"/>
<rect x="105" y="314" width="1" height="1" fill="#ff0000"/>
<rect x="106" y="314" width="1" height="2" fill="#ff0000"/>
<rect x="107" y="314" width="1" height="2" fill="#ff0000"/>
<rect x="108" y="314" width="1" height="2" fill="#ff0000"/>
<rect x="109" y="314" width="1" height="3" fill="#ff0000"/>
<rect x="110" y="313" width="1" height="3" fill="#ff0000"/>
<rect x="111" y="314" width="1" height="3" fill="#ff0000"/>
<rect x="112" y="314" width="1" height="3" fill="#ff0000"/>
<rect x="113" y="314" width="1" height="1" fill="#ff0000"/>
<rect x="114" y="314" width="1" height="2" fill="#ff0000"/>
<rect x="115" y="314" width="1" height="2" fill="#ff0000"/>
<rect x="116" y="313" width="1" height="4" fill="#ff0000"/>
<rect x="117" y="315" width="1" height="1" fill="#ff0000"/>
<rect x="118" y="315" width="1" height="1" fill="#ff0000"/>
<rect x="119" y="314" width="1" height="2" fill="#ff0000"/>
<rect x="120" y="313" width="1" height="3" fill="#ff0000"/>
<rect x="121" y="314" width="1" height="2" fill="#ff0000"/>
<rect x="122" y="314" width="1" height="2" fill="#ff0000"/>
<rect x="123" y="314" width="1" height="2" fill="#ff0000"/>
<rect x="124" y="314" width="1" height="2" fill="#ff0000"/>
<rect x="125" y="314" width="1" height="3" fill="#ff0000"/>
<rect x="126" y="314" width="1" height="1" fill="#ff0000"/>
<rect x="127" y="313" width="1" height="2" fill="#ff0000"/>
<rect x="128" y="314" width="1" height="2" fill="#ff0000"/>
<rect x="129" y="313" width="1" height="3" fill="#ff0000"/>
<rect x="130" y="314" width="1" height="3" fill="#ff0000"/>
<rect x="131" y="314" width="1" height="3" fill="#ff0000"/>
<rect x="132" y="313" width="1" height="3" fill="#ff0000"/>
<rect x="133" y="315" width="1" height="2" fill="#ff0000"/>
<rect x="134" y="313" width="1" height="4" fill="#ff0000"/>
<rect x="135" y="314" width="1" height="3" fill="#ff0000"/>
<rect x="136" y="314" width="1" height="2" fill="#ff0000"/>
<rect x="137" y="314" width="1" height="2" fill="#ff0000"/>
<rect x="138" y="314" width="1" height="2" fill="#ff0000"/>
<rect x="139" y="313" width="1" height="2" fill="#ff0000"/>
<rect x="140" y="313" width="1" height="2" fill="#ff0000"/>
<rect x="141" y="312" width="1" height="4" fill="#ff0000"/>
<rect x="142" y="313" width="1" height="3" fill="#ff0000"/>
<rect x="143" y="312" width="1" height="3" fill="#ff0000"/>
<rect x="144" y="313" width="1" height="3" fill="#ff0000"/>
<rect x="145" y="313" width="1" height="2" fill="#ff0000"/>
<rect x="146" y="313" width="1" height="3" fill="#ff0000"/>
<rect x="147" y="313" width="1" height="2" fill="#ff0000"/>
<rect x="148" y="313" width="1" height="3" fill="#ff0000"/>
<rect x="149" y="313" width="1" height="2" fill="#ff0000"/>
<rect x="150" y="313" width="1" height="2" fill="#ff0000"/>
<rect x="151" y="314" width="1" height="1" fill="#ff0000"/>
<rect x="152" y="313" width="1" height="3" fill="#ff0000"/>
<rect x="153" y="313" width="1" height="2" fill="#ff0000"/>
<rect x="154" y="314" width="1" height="1" fill="#ff0000"/>
<rect x="155" y="312" width="1" height="4" fill="#ff0000"/>
<rect x="156" y="312" width="1" height="4" fill="#ff0000"/>
<rect x="157" y="312" width="1" height="3" fill="#ff0000"/>
<rect x="158" y="313" width="1" height="1" fill="#ff0000"/>
<rect x="159" y="313" width="1" height="2" fill="#ff0000"/>
<rect x="160" y="312" width="1" height="4" fill="#ff0000"/>
<rect x="161" y="312" width="1" height="3" fill="#ff0000"/>
<rect x="162" y="313" width="1" height="2" fill="#ff0000"/>
<rect x="163" y="313" width="1" height="2" fill="#ff0000"/>
<rect x="164" y="313" width="1" height="3" fill="#ff0000"/>
<rect x="165" y="313" width="1" height="2" fill="#ff0000"/>
<rect x="166" y="313" width="1" height="1" fill="#ff0000"/>
<rect x="167" y="313" width="1" height="2" fill="#ff0000"/>
<rect x="168" y="313" width="1" height="2" fill="#ff0000"/>
<rect x="169" y="312" width="1" height="4" fill="#ff0000"/>
<rect x="170" y="314" width="1" height="1" fill="#ff0000"/>
<rect x="171" y="312" width="1" height="4" fill="#ff0000"/>
<rect x="172" y="314" width="1" height="1" fill="#ff0000"/>
<rect x="173" y="314" width="1" height="1" fill="#ff0000"/>
<rect x="174" y="313" width="1" height="2" fill="#ff0000"/>
<rect x="175" y="313" width="1" height="2" fill="#ff0000"/>
<rect x="176" y="314" width="1" height="1" fill="#ff0000"/>
<rect x="177" y="313" width="1" height="2" fill="#ff0000"/>
<rect x="178" y="313" width="1" height="3" fill="#ff0000"/>
<rect x="179" y="312" width="1" height="3" fill="#ff0000"/>
<rect x="180" y="312" width="1" height="3" fill="#ff0000"/>
<rect x="181" y="313" width="1" height="2" fill="#ff0000"/>
<rect x="182" y="313" width="1" height="2" fill="#ff0000"/>
<rect x="183" y="313" width="1" height="2" fill="#ff0000"/>
<rect x="184" y="313" width="1" height="2" fill="#ff0000"/>
<rect x="185" y="313" width="1" height="3" fill="#ff0000"/>
<rect x="186" y="313" width="1" height="3" fill="#ff0000"/>
<rect x="187" y="313" width="1" height="2" fill="#ff0000"/>
<rect x="188" y="312" width="1" height="2" fill="#ff0000"/>
<rect x="189" y="313" width="1" height="2" fill="#ff0000"/>
<rect x="190" y="313" width="1" height="3" fill="#ff0000"/>
<rect x="191" y="314" width="1" height="1" fill="#ff0000"/>
<rect x="192" y="313" width="1" height="3" fill="#ff0000"/>
<rect x="193" y="313" width="1" height="3" fill="#ff0000"/>
<rect x="194" y="314" width="1" height="2" fill="#ff0000"/>
<rect x="195" y="314" width="1" height="3" fill="#ff0000"/>
<rect x="196" y="313" width="1" height="4" fill="#ff0000"/>
<rect x="197" y="314" width="1" height="2" fill="#ff0000"/>
<rect x="198" y="313" width="1" height="3" fill="#ff0000"/>
<rect x="199" y="314" width="1" height="1" fill="#ff0000"/>
<rect x="200" y="314" width="1" height="1" fill="#ff0000"/>
<rect x="201" y="314" width="1" height="2" fill="#ff0000"/>
<rect x="202" y="314" width="1" height="3" fill="#ff0000"/>
<rect x="203" y="314" width="1" height="3" fill="#ff0000"/>
<rect x="204" y="314" width="1" height="2" fill="#ff0000"/>
<rect x="205" y="313" width="1" height="3" fill="#ff0000"/>
<rect x="206" y="314" width="1" height="3" fill="#ff0000"/>
<rect x="207" y="315" width="1" height="1" fill="#ff0000"/>
<rect x="208" y="314" width="1" height="1" fill="#ff0000"/>
<rect x="209" y="313" width="1" height="3" fill="#ff0000"/>
<rect x="210" y="313" width="1" height="3" fill="#ff0000"/>
<rect x="211" y="314" width="1" height="2" fill="#ff0000"/>
<rect x="212" y="315" width="1" height="1" fill="#ff0000"/>
<rect x="213" y="314" width="1" height="2" fill="#ff0000"/>
<rect x="214" y="315" width="1" height="2" fill="#ff0000"/>
<rect x="215" y="313" width="1" height="4" fill="#ff0000"/>
<rect x="216" y="313" width="1" height="4" fill="#ff0000"/>
<rect x="217" y="314" width="1" height="3" fill="#ff0000"/>
<rect x="218" y="314" width="1" height="2" fill="#ff0000"/>
<rect x="219" y="314" width="1" height="2" fill="#ff0000"/>
<rect x="220" y="314" width="1" height="2" fill="#ff0000"/>
<rect x="221" y="315" width="1" height="1" fill="#ff0000"/>
<rect x="222" y="314" width="1" height="2" fill="#ff0000"/>
<rect x="223" y="314" width="1" height="2" fill="#ff0000"/>
<rect x="224" y="313" width="1" height="3" fill="#ff0000"/>
<rect x="225" y="313" width="1" height="3" fill="#ff0000"/>
<rect x="226" y="314" width="1" height="3" fill="#ff0000"/>
<rect x="227" y="313" width="1" height="3" fill="#ff0000"/>
<rect x="228" y="314" width="1" height="3" fill="#ff0000"/>
<rect x="229" y="315" width="1" height="1" fill="#ff0000"/>
<rect x="230" y="313" width="1" height="4" fill="#ff0000"/>
<rect x="231" y="314" width="1" height="2" fill="#ff0000"/>
<rect x="232" y="313" width="1" height="4" fill="#ff0000"/>
<rect x="233" y="313" width="1" height="3" fill="#ff0000"/>
<rect x="234" y="313" width="1" height="4" fill="#ff0000"/>
<rect x="235" y="314" width="1" height="2" fill="#ff0000"/>
<rect x="236" y="314" width="1" height="2" fill="#ff0000"/>
<rect x="237" y="314" width="1" height="3" fill="#ff0000"/>
<rect x="238" y="314" width="1" height="2" fill="#ff0000"/>
<rect x="239" y="314" width="1" height="2" fill="#ff0000"/>
<rect x="240" y="313" width="1" height="3" fill="#ff0000"/>
<rect x="241" y="313" width="1" height="4" fill="#ff0000"/>
<rect x="242" y="313" width="1" height="3" fill="#ff0000"/>
<rect x="243" y="313" width="1" height="4" fill="#ff0000"/>
<rect x="244" y="314" width="1" height="2" fill="#ff0000"/>
<rect x="245" y="314" width="1" height="1" fill="#ff0000"/>
<rect x="246" y="313" width="1" height="4" fill="#ff0000"/>
<rect x="247" y="314" width="1" height="3" fill="#ff0000"/>
<rect x="248" y="315" width="1" height="1" fill="#ff0000"/>
<rect x="249" y="313" width="1" height="3" fill="#ff0000"/>
<rect x="250" y="315" width="1" height="2" fill="#ff0000"/>
<rect x="251" y="314" width="1" height="2" fill="#ff0000"/>
<rect x="252" y="313" width="1" height="3" fill="#ff0000"/>
<rect x="253" y="313" width="1" height="3" fill="#ff0000"/>
<rect x="254" y="313" width="1" height="3" fill="#ff0000"/>
<rect x="255" y="313" width="1" height="3" fill="#ff0000"/>
<rect x="256" y="314" width="1" height="2" fill="#ff0000"/>
<rect x="257" y="313" width="1" height="3" fill="#ff0000"/>
<rect x="258" y="314" width="1" height="2" fill="#ff0000"/>
<rect x="259" y="313" width="1" height="3" fill="#ff0000"/>
<rect x="260" y="313" width="1" height="4" fill="#ff0000"/>
<rect x="261" y="314" width="1" height="1" fill="#ff0000"/>
<rect x="262" y="313" width="1" height="4" fill="#ff0000"/>
<rect x="263" y="314" width="1" height="3" fill="#ff0000"/>
<rect x="264" y="314" width="1" height="2" fill="#ff0000"/>
<rect x="265" y="314" width="1" height="1" fill="#ff0000"/>
<rect x="266" y="314" width="1" height="2" fill="#ff0000"/>
<rect x="267" y="315" width="1" height="2" fill="#ff0000"/>
<rect x="268" y="313" width="1" height="2" fill="#ff0000"/>
<rect x="269" y="314" width="1" height="3" fill="#ff0000"/>
<rect x="270" y="314" width="1" height="2" fill="#ff0000"/>
<rect x="271" y="314" width="1" height="3" fill="#ff0000"/>
<rect x="272" y="314" width="1" height="2" fill="#ff0000"/>
<rect x="273" y="314" width="1" height="3" fill="#ff0000"/>
<rect x="274" y="314" width="1" height="1" fill="#ff0000"/>
<rect x="275" y="314" width="1" height="2" fill="#ff0000"/>
<rect x="276" y="315" width="1" height="1" fill="#ff0000"/>
<rect x="277" y="313" width="1" height="4" fill="#ff0000"/>
<rect x="278" y="314" width="1" height="2" fill="#ff0000"/>
<rect x="279" y="313" width="1" height="4" fill="#ff0000"/>
<rect x="280" y="315" width="1" height="1" fill="#ff0000"/>
<rect x="281" y="314" width="1" height="3" fill="#ff0000"/>
<rect x="282" y="313" width="1" height="3" fill="#ff0000"/>
<rect x="283" y="314" width="1" height="1" fill="#ff0000"/>
<rect x="284" y="313" width="1" height="3" fill="#ff0000"/>
<rect x="285" y="314" width="1" height="2" fill="#ff0000"/>
<rect x="286" y="315" width="1" height="2" fill="#ff0000"/>
<rect x="287" y="314" width="1" height="3" fill="#ff0000"/>
<rect x="288" y="313" width="1" height="2" fill="#ff0000"/>
<rect x="289" y="314" width="1" height="2" fill="#ff0000"/>
<rect x="290" y="314" width="1" height="2" fill="#ff0000"/>
<rect x="291" y="313" width="1" height="3" fill="#ff0000"/>
<rect x="292" y="313" width="1" height="3" fill="#ff0000"/>
<rect x="293" y="314" width="1" height="2" fill="#ff0000"/>
<rect x="294" y="314" width="1" height="2" fill="#ff0000"/>
<rect x="295" y="314" width="1" height="2" fill="#ff0000"/>
<rect x="296" y="314" width="1" height="2" fill="#ff0000"/>
<rect x="297" y="314" width="1" height="3" fill="#ff0000"/>
<rect x="298" y="315" width="1" height="1" fill="#ff0000"/>
<rect x="299" y="313" width="1" height="3" fill="#ff0000"/>
<rect x="300" y="313" width="1" height="3" fill="#ff0000"/>
<rect x="301" y="313" width="1" height="3" fill="#ff0000"/>
<rect x="302" y="314" width="1" height="2" fill="#ff0000"/>
<rect x="303" y="314" width="1" height="2" fill="#ff0000"/>
<rect x="304" y="314" width="1" height="3" fill="#ff0000"/>
<rect x="305" y="314" width="1" height="3" fill="#ff0000"/>
<rect x="306" y="313" width="1" height="3" fill="#ff0000"/>
<rect x="307" y="313" width="1" height="3" fill="#ff0000"/>
<rect x="308" y="313" width="1" height="3" fill="#ff0000"/>
<rect x="309" y="314" width="1" height="2" fill="#ff0000"/>
<rect x="310" y="314" width="1" height="3" fill="#ff0000"/>
<rect x="311" y="314" width="1" height="2" fill="#ff0000"/>
<rect x="312" y="314" width="1" height="3" fill="#ff0000"/>
<rect x="313" y="314" width="1" height="3" fill="#ff0000"/>
<rect x="314" y="314" width="1" height="2" fill="#ff0000"/>
<rect x="315" y="313" width="1" height="3" fill="#ff0000"/>
<rect x="316" y="314" width="1" height="3" fill="#ff0000"/>
<rect x="317" y="313" width="1" height="3" fill="#ff0000"/>
<rect x="318" y="314" width="1" height="2" fill="#ff0000"/>
<rect x="319" y="313" width="1" height="3" fill="#ff0000"/>
<rect x="320" y="315" width="1" height="1" fill="#ff0000"/>
<rect x="321" y="313" width="1" height="4" fill="#ff0000"/>
<rect x="322" y="314" width="1" height="2" fill="#ff0000"/>
<rect x="323" y="313" width="1" height="3" fill="#ff0000"/>
<rect x="324" y="314" width="1" height="1" fill="#ff0000"/>
<rect x="325" y="314" width="1" height="2" fill="#ff0000"/>
<rect x="326" y="314" width="1" height="2" fill="#ff0000"/>
<rect x="327" y="314" width="1" height="3" fill="#ff0000"/>
<rect x="328" y="314" width="1" height="3" fill="#ff0000"/>
<rect x="329" y="314" width="1" height="2" fill="#ff0000"/>
<rect x="330" y="313" width="1" height="2" fill="#ff0000"/>
<rect x="331" y="313" width="1" height="4" fill="#ff0000"/>
<rect x="332" y="314" width="1" height="2" fill="#ff0000"/>
<rect x="333" y="314" width="1" height="2" fill="#ff0000"/>
<rect x="334" y="314" width="1" height="2" fill="#ff0000"/>
<rect x="335" y="313" width="1" height="3" fill="#ff0000"/>
<rect x="336" y="314" width="1" height="2" fill="#ff0000"/>
<rect x="337" y="314" width="1" height="1" fill="#ff0000"/>
<rect x="338" y="314" width="1" height="2" fill="#ff0000"/>
<rect x="339" y="313" width="1" height="4" fill="#ff0000"/>
<rect x="340" y="313" width="1" height="3" fill="#ff0000"/>
<rect x="341" y="314" width="1" height="2" fill="#ff0000"/>
<rect x="342" y="315" width="1" height="1" fill="#ff0000"/>
<rect x="343" y="315" width="1" height="1" fill="#ff0000"/>
<rect x="344" y="313" width="1" height="3" fill="#ff0000"/>
<rect x="345" y="315" width="1" height="1" fill="#ff0000"/>
<rect x="346" y="314" width="1" height="3" fill="#ff0000"/>
<rect x="347" y="314" width="1" height="1" fill="#ff0000"/>
<rect x="348" y="314" width="1" height="3" fill="#ff0000"/>
<rect x="349" y="314" width="1" height="2" fill="#ff0000"/>
<rect x="350" y="315" width="1" height="1" fill="#ff0000"/>
<rect x="351" y="314" width="1" height="2" fill="#ff0000"/>
<rect x="352" y="314" width="1" height="2" fill="#ff0000"/>
<rect x="353" y="314" width="1" height="2" fill="#ff0000"/>
<rect x="354" y="314" width="1" height="2" fill="#ff0000"/>
<rect x="355" y="314" width="1" height="3" fill="#ff0000"/>
<rect x="356" y="313" width="1" height="3" fill="#ff0000"/>
<rect x="357" y="314" width="1" height="2" fill="#ff0000"/>
<rect x="358" y="314" width="1" height="2" fill="#ff0000"/>
<rect x="359" y="314" width="1" height="3" fill="#ff0000"/>
<rect x="360" y="314" width="1" height="2" fill="#ff0000"/>
<rect x="361" y="314" width="1" height="2" fill="#ff0000"/>
<rect x="362" y="314" width="1" height="3" fill="#ff0000"/>
<rect x="363" y="314" width="1" height="1" fill="#ff0000"/>
<rect x="364" y="314" width="1" height="3" fill="#ff0000"/>
<rect x="365" y="314" width="1" height="3" fill="#ff0000"/>
<rect x="366" y="314" width="1" height="2" fill="#ff0000"/>
<rect x="367" y="314" width="1" height="3" fill="#ff0000"/>
<rect x="368" y="313" width="1" height="3" fill="#ff0000"/>
<rect x="369" y="314" width="1" height="3" fill="#ff0000"/>
<rect x="370" y="314" width="1" height="1" fill="#ff0000"/>
<rect x="371" y="314" width="1" height="2" fill="#ff0000"/>
<rect x="372" y="313" width="1" height="3" fill="#ff0000"/>
<rect x="373" y="314" width="1" height="2" fill="#ff0000"/>
<rect x="374" y="313" width="1" height="3" fill="#ff0000"/>
<rect x="375" y="313" width="1" height="4" fill="#ff0000"/>
<rect x="376" y="313" width="1" height="3" fill="#ff0000"/>
<rect x="377" y="314" width="1" height="2" fill="#ff0000"/>
<rect x="378" y="313" width="1" height="4" fill="#ff0000"/>
<rect x="379" y="314" width="1" height="2" fill="#ff0000"/>
<rect x="380" y="313" width="1" height="3" fill="#ff0000"/>
<rect x="381" y="314" width="1" height="3" fill="#ff0000"/>
<rect x="382" y="314" width="1" height="3" fill="#ff0000"/>
<rect x="383" y="315" width="1" height="2" fill="#ff0000"/>
<rect x="384" y="314" width="1" height="3" fill="#ff0000"/>
<rect x="385" y="314" width="1" height="3" fill="#ff0000"/>
<rect x="386" y="314" width="1" height="2" fill="#ff0000"/>
<rect x="387" y="314" width="1" height="2" fill="#ff0000"/>
<rect x="388" y="314" width="1" height="2" fill="#ff0000"/>
<rect x="389" y="314" width="1" height="2" fill="#ff0000"/>
<rect x="390" y="314" width="1" height="3" fill="#ff0000"/>
<rect x="391" y="314" width="1" height="2" fill="#ff0000"/>
<rect x="392" y="314" width="1" height="3" fill="#ff0000"/>
<rect x="393" y="314" width="1" height="3" fill="#ff0000"/>
<rect x="394" y="314" width="1" height="2" fill="#ff0000"/>
<rect x="395" y="314" width="1" height="2" fill="#ff0000"/>
<rect x="396" y="314" width="1" height="1" fill="#ff0000"/>
<rect x="397" y="314" width="1" height="2" fill="#ff0000"/>
<rect x="398" y="314" width="1" height="2" fill="#ff0000"/>
<rect x="399" y="313" width="1" height="3" fill="#ff0000"/>
<rect x="400" y="313" width="1" height="3" fill="#ff0000"/>
<rect x="401" y="313" width="1" height="4" fill="#ff0000"/>
<rect x="402" y="314" width="1" height="2" fill="#ff0000"/>
<rect x="403" y="313" width="1" height="4" fill="#ff0000"/>
<rect x="404" y="314" width="1" height="2" fill="#ff0000"/>
<rect x="405" y="314" width="1" height="2" fill="#ff0000"/>
<rect x="406" y="314" width="1" height="2" fill="#ff0000"/>
<rect x="407" y="314" width="1" height="1" fill="#ff0000"/>
<rect x="408" y="314" width="1" height="2" fill="#ff0000"/>
<rect x="409" y="314" width="1" height="2" fill="#ff0000"/>
<rect x="410" y="313" width="1" height="3" fill="#ff0000"/>
<rect x="411" y="313" width="1" height="3" fill="#ff0000"/>
<rect x="412" y="313" width="1" height="4" fill="#ff0000"/>
<rect x="413" y="314" width="1" height="1" fill="#ff0000"/>
<rect x="414" y="314" width="1" height="2" fill="#ff0000"/>
<rect x="415" y="313" width="1" height="4" fill="#ff0000"/>
<rect x="416" y="313" width="1" height="4" fill="#ff0000"/>
<rect x="417" y="314" width="1" height="2" fill="#ff0000"/>
<rect x="418" y="314" width="1" height="3" fill="#ff0000"/>
<rect x="419" y="314" width="1" height="1" fill="#ff0000"/>
<rect x="420" y="313" width="1" height="3" fill="#ff0000"/>
<rect x="421" y="314" width="1" height="2" fill="#ff0000"/>
<rect x="422" y="314" width="1" height="3" fill="#ff0000"/>
<rect x="423" y="314" width="1" height="2" fill="#ff0000"/>
</g>
<g fill="none" stroke-width="1" shape-rendering="crispEdges" stroke-linecap="square" stroke-linejoin="miter">
<path d="M42.5 14.5 L41.5 12.5 L40.5 11.5 L39.5 11.5 L36.5 11.5 L35.5 11.5 L34.5 12.5 L33.5 14.5 L33.5 15.5 L33.5 18.5 L33.5 20.5 L34.5 21.5 L35.5 22.5 L36.5 23.5 L39.5 23.5 L40.5 22.5 L41.5 21.5 L42.5 20.5 L42.5 18.5 M39.5 18.5 L42.5 18.5 M49.5 11.5 L47.5 11.5 L46.5 12.5 L46.5 14.5 L45.5 15.5 L45.5 18.5 L46.5 20.5 L46.5 21.5 L47.5 22.5 L49.5 23.5 L51.5 23.5 L52.5 22.5 L53.5 21.5 L54.5 20.5 L55.5 18.5 L55.5 15.5 L54.5 14.5 L53.5 12.5 L52.5 11.5 L51.5 11.5 L49.5 11.5 M59.5 11.5 L59.5 23.5 M59.5 11.5 L66.5 11.5 M59.5 16.5 L63.5 16.5 M59.5 23.5 L66.5 23.5 M78.5 12.5 L76.5 11.5 L75.5 11.5 L72.5 11.5 L71.5 11.5 L69.5 12.5 L69.5 14.5 L70.5 15.5 L71.5 15.5 L72.5 16.5 L75.5 17.5 L76.5 18.5 L77.5 18.5 L78.5 19.5 L78.5 21.5 L76.5 22.5 L75.5 23.5 L72.5 23.5 L71.5 22.5 L69.5 21.5 M91.5 11.5 L99.5 23.5 M99.5 11.5 L91.5 23.5 M103.5 15.5 L103.5 23.5 M103.5 18.5 L104.5 16.5 L105.5 15.5 L106.5 15.5 L108.5 15.5 M117.5 15.5 L117.5 23.5 M117.5 16.5 L116.5 15.5 L115.5 15.5 L113.5 15.5 L112.5 15.5 L111.5 16.5 L110.5 18.5 L110.5 19.5 L111.5 21.5 L112.5 22.5 L113.5 23.5 L115.5 23.5 L116.5 22.5 L117.5 21.5 M121.5 15.5 L124.5 23.5 M128.5 15.5 L124.5 23.5 L123.5 25.5 L122.5 27.5 L121.5 27.5 L120.5 27.5 M141.5 11.5 L141.5 23.5 M141.5 11.5 L149.5 11.5 M141.5 16.5 L146.5 16.5 M152.5 11.5 L152.5 23.5 M156.5 15.5 L156.5 21.5 L157.5 22.5 L158.5 23.5 L160.5 23.5 L162.5 22.5 L163.5 21.5 M163.5 15.5 L163.5 23.5 M167.5 15.5 L174.5 23.5 M174.5 15.5 L167.5 23.5 M191.5 8.5 L190.5 9.5 L189.5 11.5 L188.5 14.5 L187.5 16.5 L187.5 19.5 L188.5 22.5 L189.5 24.5 L190.5 26.5 L191.5 27.5 M197.5 13.5 L198.5 12.5 L200.5 11.5 L200.5 23.5 M207.5 18.5 L218.5 18.5 M223.5 15.5 L223.5 23.5 M223.5 17.5 L224.5 15.5 L226.5 15.5 L227.5 15.5 L229.5 15.5 L229.5 17.5 L229.5 23.5 M229.5 17.5 L231.5 15.5 L232.5 15.5 L234.5 15.5 L235.5 15.5 L236.5 17.5 L236.5 23.5 M240.5 11.5 L240.5 11.5 L241.5 11.5 L240.5 10.5 L240.5 11.5 M240.5 15.5 L240.5 23.5 M245.5 15.5 L245.5 23.5 M245.5 17.5 L247.5 15.5 L248.5 15.5 L250.5 15.5 L251.5 15.5 L252.5 17.5 L252.5 23.5 M256.5 15.5 L256.5 21.5 L257.5 22.5 L258.5 23.5 L260.5 23.5 L262.5 22.5 L263.5 21.5 M263.5 15.5 L263.5 23.5 M268.5 11.5 L268.5 21.5 L269.5 22.5 L270.5 23.5 L271.5 23.5 M266.5 15.5 L271.5 15.5 M274.5 18.5 L281.5 18.5 L281.5 17.5 L281.5 16.5 L280.5 15.5 L279.5 15.5 L277.5 15.5 L276.5 15.5 L275.5 16.5 L274.5 18.5 L274.5 19.5 L275.5 21.5 L276.5 22.5 L277.5 23.5 L279.5 23.5 L280.5 22.5 L281.5 21.5 M301.5 11.5 L301.5 23.5 M301.5 16.5 L300.5 15.5 L299.5 15.5 L297.5 15.5 L296.5 15.5 L295.5 16.5 L294.5 18.5 L294.5 19.5 L295.5 21.5 L296.5 22.5 L297.5 23.5 L299.5 23.5 L300.5 22.5 L301.5 21.5 M313.5 15.5 L313.5 23.5 M313.5 16.5 L311.5 15.5 L310.5 15.5 L309.5 15.5 L307.5 15.5 L306.5 16.5 L306.5 18.5 L306.5 19.5 L306.5 21.5 L307.5 22.5 L309.5 23.5 L310.5 23.5 L311.5 22.5 L313.5 21.5 M318.5 11.5 L318.5 21.5 L319.5 22.5 L320.5 23.5 L321.5 23.5 M316.5 15.5 L320.5 15.5 M331.5 15.5 L331.5 23.5 M331.5 16.5 L330.5 15.5 L329.5 15.5 L327.5 15.5 L326.5 15.5 L324.5 16.5 L324.5 18.5 L324.5 19.5 L324.5 21.5 L326.5 22.5 L327.5 23.5 L329.5 23.5 L330.5 22.5 L331.5 21.5 M335.5 8.5 L336.5 9.5 L338.5 11.5 L339.5 14.5 L339.5 16.5 L339.5 19.5 L339.5 22.5 L338.5 24.5 L336.5 26.5 L335.5 27.5" stroke="#000"/>
<path d="M416.5 18.5 L416.5 28.5 M416.5 18.5 L420.5 18.5 L422.5 19.5 L422.5 19.5 L422.5 20.5 L422.5 21.5 L422.5 22.5 L422.5 22.5 L420.5 23.5 M416.5 23.5 L420.5 23.5 L422.5 23.5 L422.5 24.5 L422.5 25.5 L422.5 26.5 L422.5 27.5 L422.5 28.5 L420.5 28.5 L416.5 28.5 M425.5 24.5 L431.5 24.5 L431.5 23.5 L430.5 22.5 L430.5 22.5 L429.5 22.5 L428.5 22.5 L427.5 22.5 L426.5 23.5 L425.5 24.5 L425.5 25.5 L426.5 27.5 L427.5 28.5 L428.5 28.5 L429.5 28.5 L430.5 28.5 L431.5 27.5 M439.5 22.5 L439.5 29.5 L439.5 30.5 L438.5 31.5 L437.5 31.5 L436.5 31.5 L435.5 31.5 M439.5 23.5 L438.5 22.5 L437.5 22.5 L436.5 22.5 L435.5 22.5 L434.5 23.5 L434.5 24.5 L434.5 25.5 L434.5 27.5 L435.5 28.5 L436.5 28.5 L437.5 28.5 L438.5 28.5 L439.5 27.5 M442.5 18.5 L443.5 19.5 L443.5 18.5 L443.5 18.5 L442.5 18.5 M443.5 22.5 L443.5 28.5 M447.5 22.5 L447.5 28.5 M447.5 23.5 L448.5 22.5 L449.5 22.5 L450.5 22.5 L451.5 22.5 L452.5 23.5 L452.5 28.5 M456.5 22.5 L455.5 22.5 L456.5 22.5 L456.5 22.5 L456.5 22.5 M456.5 27.5 L455.5 28.5 L456.5 28.5 L456.5 28.5 L456.5 27.5 M475.5 21.5 L475.5 20.5 L475.5 19.5 L476.5 19.5 L477.5 18.5 L478.5 18.5 L479.5 19.5 L480.5 19.5 L480.5 20.5 L480.5 21.5 L480.5 22.5 L479.5 23.5 L474.5 28.5 L481.5 28.5 M486.5 18.5 L485.5 19.5 L484.5 20.5 L484.5 22.5 L484.5 24.5 L484.5 26.5 L485.5 28.5 L486.5 28.5 L487.5 28.5 L489.5 28.5 L490.5 26.5 L490.5 24.5 L490.5 22.5 L490.5 20.5 L489.5 19.5 L487.5 18.5 L486.5 18.5 M494.5 20.5 L495.5 20.5 L496.5 18.5 L496.5 28.5 M508.5 22.5 L508.5 23.5 L507.5 24.5 L505.5 24.5 L505.5 24.5 L503.5 24.5 L503.5 23.5 L502.5 22.5 L502.5 21.5 L503.5 20.5 L503.5 19.5 L505.5 18.5 L505.5 18.5 L507.5 19.5 L508.5 20.5 L508.5 22.5 L508.5 24.5 L508.5 26.5 L507.5 28.5 L505.5 28.5 L504.5 28.5 L503.5 28.5 L503.5 27.5 M519.5 18.5 L519.5 28.5 M519.5 18.5 L522.5 18.5 L524.5 19.5 L525.5 20.5 L525.5 21.5 L526.5 22.5 L526.5 24.5 L525.5 26.5 L525.5 27.5 L524.5 28.5 L522.5 28.5 L519.5 28.5 M528.5 24.5 L534.5 24.5 L534.5 23.5 L534.5 22.5 L533.5 22.5 L532.5 22.5 L531.5 22.5 L530.5 22.5 L529.5 23.5 L528.5 24.5 L528.5 25.5 L529.5 27.5 L530.5 28.5 L531.5 28.5 L532.5 28.5 L533.5 28.5 L534.5 27.5 M542.5 23.5 L541.5 22.5 L540.5 22.5 L539.5 22.5 L538.5 22.5 L537.5 23.5 L537.5 24.5 L537.5 25.5 L537.5 27.5 L538.5 28.5 L539.5 28.5 L540.5 28.5 L541.5 28.5 L542.5 27.5 M558.5 18.5 L553.5 18.5 L553.5 22.5 L553.5 22.5 L555.5 22.5 L556.5 22.5 L558.5 22.5 L558.5 23.5 L559.5 24.5 L559.5 25.5 L558.5 27.5 L558.5 28.5 L556.5 28.5 L555.5 28.5 L553.5 28.5 L553.5 27.5 L552.5 26.5 M572.5 18.5 L571.5 19.5 L570.5 20.5 L569.5 22.5 L569.5 24.5 L570.5 26.5 L571.5 28.5 L572.5 28.5 L573.5 28.5 L574.5 28.5 L575.5 26.5 L576.5 24.5 L576.5 22.5 L575.5 20.5 L574.5 19.5 L573.5 18.5 L572.5 18.5 M581.5 18.5 L580.5 19.5 L579.5 20.5 L578.5 22.5 L578.5 24.5 L579.5 26.5 L580.5 28.5 L581.5 28.5 L582.5 28.5 L583.5 28.5 L584.5 26.5 L585.5 24.5 L585.5 22.5 L584.5 20.5 L583.5 19.5 L582.5 18.5 L581.5 18.5 M590.5 18.5 L589.5 19.5 L588.5 20.5 L588.5 22.5 L588.5 24.5 L588.5 26.5 L589.5 28.5 L590.5 28.5 L591.5 28.5 L593.5 28.5 L594.5 26.5 L594.5 24.5 L594.5 22.5 L594.5 20.5 L593.5 19.5 L591.5 18.5 L590.5 18.5 M600.5 18.5 L598.5 19.5 L597.5 20.5 L597.5 22.5 L597.5 24.5 L597.5 26.5 L598.5 28.5 L600.5 28.5 L601.5 28.5 L602.5 28.5 L603.5 26.5 L603.5 24.5 L603.5 22.5 L603.5 20.5 L602.5 19.5 L601.5 18.5 L600.5 18.5 M614.5 18.5 L614.5 25.5 L614.5 27.5 L615.5 28.5 L617.5 28.5 L618.5 28.5 L619.5 28.5 L620.5 27.5 L620.5 25.5 L620.5 18.5 M626.5 18.5 L626.5 28.5 M623.5 18.5 L629.5 18.5 M638.5 21.5 L638.5 20.5 L637.5 19.5 L636.5 18.5 L634.5 18.5 L633.5 19.5 L632.5 20.5 L632.5 21.5 L631.5 22.5 L631.5 24.5 L632.5 26.5 L632.5 27.5 L633.5 28.5 L634.5 28.5 L636.5 28.5 L637.5 28.5 L638.5 27.5 L638.5 26.5" stroke="#000"/>
<path d="M1.5 464.5 L1.5 471.5 L1.5 473.5 L2.5 474.5 L4.5 474.5 L5.5 474.5 L6.5 474.5 L7.5 473.5 L8.5 471.5 L8.5 464.5 M11.5 467.5 L11.5 477.5 M11.5 469.5 L12.5 468.5 L13.5 467.5 L14.5 467.5 L15.5 468.5 L16.5 469.5 L17.5 470.5 L17.5 471.5 L16.5 473.5 L15.5 474.5 L14.5 474.5 L13.5 474.5 L12.5 474.5 L11.5 473.5 M25.5 464.5 L25.5 474.5 M25.5 469.5 L24.5 468.5 L23.5 467.5 L22.5 467.5 L21.5 468.5 L20.5 469.5 L20.5 470.5 L20.5 471.5 L20.5 473.5 L21.5 474.5 L22.5 474.5 L23.5 474.5 L24.5 474.5 L25.5 473.5 M34.5 467.5 L34.5 474.5 M34.5 469.5 L33.5 468.5 L32.5 467.5 L31.5 467.5 L30.5 468.5 L29.5 469.5 L28.5 470.5 L28.5 471.5 L29.5 473.5 L30.5 474.5 L31.5 474.5 L32.5 474.5 L33.5 474.5 L34.5 473.5 M38.5 464.5 L38.5 472.5 L39.5 474.5 L40.5 474.5 L41.5 474.5 M37.5 467.5 L40.5 467.5 M43.5 470.5 L48.5 470.5 L48.5 469.5 L48.5 468.5 L48.5 468.5 L47.5 467.5 L45.5 467.5 L44.5 468.5 L43.5 469.5 L43.5 470.5 L43.5 471.5 L43.5 473.5 L44.5 474.5 L45.5 474.5 L47.5 474.5 L48.5 474.5 L48.5 473.5 M57.5 464.5 L57.5 474.5 M57.5 469.5 L56.5 468.5 L55.5 467.5 L54.5 467.5 L53.5 468.5 L52.5 469.5 L51.5 470.5 L51.5 471.5 L52.5 473.5 L53.5 474.5 L54.5 474.5 L55.5 474.5 L56.5 474.5 L57.5 473.5 M68.5 467.5 L68.5 466.5 L68.5 465.5 L69.5 465.5 L70.5 464.5 L72.5 464.5 L73.5 465.5 L73.5 465.5 L74.5 466.5 L74.5 467.5 L73.5 468.5 L72.5 469.5 L68.5 474.5 L74.5 474.5 M80.5 464.5 L78.5 465.5 L77.5 466.5 L77.5 468.5 L77.5 470.5 L77.5 472.5 L78.5 474.5 L80.5 474.5 L81.5 474.5 L82.5 474.5 L83.5 472.5 L83.5 470.5 L83.5 468.5 L83.5 466.5 L82.5 465.5 L81.5 464.5 L80.5 464.5 M88.5 466.5 L89.5 466.5 L90.5 464.5 L90.5 474.5 M102.5 467.5 L101.5 469.5 L100.5 470.5 L99.5 470.5 L98.5 470.5 L97.5 470.5 L96.5 469.5 L95.5 467.5 L95.5 467.5 L96.5 466.5 L97.5 465.5 L98.5 464.5 L99.5 464.5 L100.5 465.5 L101.5 466.5 L102.5 467.5 L102.5 470.5 L101.5 472.5 L100.5 474.5 L99.5 474.5 L98.5 474.5 L96.5 474.5 L96.5 473.5 M113.5 464.5 L113.5 474.5 M113.5 464.5 L116.5 464.5 L117.5 465.5 L118.5 466.5 L119.5 467.5 L119.5 468.5 L119.5 470.5 L119.5 472.5 L118.5 473.5 L117.5 474.5 L116.5 474.5 L113.5 474.5 M122.5 470.5 L128.5 470.5 L128.5 469.5 L127.5 468.5 L127.5 468.5 L126.5 467.5 L124.5 467.5 L123.5 468.5 L122.5 469.5 L122.5 470.5 L122.5 471.5 L122.5 473.5 L123.5 474.5 L124.5 474.5 L126.5 474.5 L127.5 474.5 L128.5 473.5 M136.5 469.5 L135.5 468.5 L134.5 467.5 L133.5 467.5 L132.5 468.5 L131.5 469.5 L130.5 470.5 L130.5 471.5 L131.5 473.5 L132.5 474.5 L133.5 474.5 L134.5 474.5 L135.5 474.5 L136.5 473.5 M160.5 464.5 L156.5 474.5 M154.5 464.5 L160.5 464.5 M173.5 464.5 L172.5 465.5 L171.5 466.5 L170.5 468.5 L170.5 470.5 L171.5 472.5 L172.5 474.5 L173.5 474.5 L174.5 474.5 L176.5 474.5 L176.5 472.5 L177.5 470.5 L177.5 468.5 L176.5 466.5 L176.5 465.5 L174.5 464.5 L173.5 464.5 M181.5 464.5 L186.5 464.5 L183.5 468.5 L184.5 468.5 L185.5 468.5 L186.5 469.5 L186.5 470.5 L186.5 471.5 L186.5 473.5 L185.5 474.5 L183.5 474.5 L182.5 474.5 L181.5 474.5 L180.5 473.5 L180.5 472.5 M190.5 467.5 L190.5 468.5 L190.5 468.5 L190.5 468.5 L190.5 467.5 M190.5 473.5 L190.5 474.5 L190.5 474.5 L190.5 474.5 L190.5 473.5 M199.5 464.5 L195.5 464.5 L194.5 468.5 L195.5 468.5 L196.5 467.5 L197.5 467.5 L199.5 468.5 L200.5 469.5 L200.5 470.5 L200.5 471.5 L200.5 473.5 L199.5 474.5 L197.5 474.5 L196.5 474.5 L195.5 474.5 L194.5 473.5 L194.5 472.5 M203.5 467.5 L203.5 466.5 L204.5 465.5 L204.5 465.5 L205.5 464.5 L207.5 464.5 L208.5 465.5 L209.5 465.5 L209.5 466.5 L209.5 467.5 L209.5 468.5 L208.5 469.5 L203.5 474.5 L210.5 474.5 M213.5 467.5 L213.5 468.5 L213.5 468.5 L214.5 468.5 L213.5 467.5 M213.5 473.5 L213.5 474.5 L213.5 474.5 L214.5 474.5 L213.5 473.5 M218.5 466.5 L219.5 466.5 L221.5 464.5 L221.5 474.5 M227.5 467.5 L227.5 466.5 L227.5 465.5 L228.5 465.5 L229.5 464.5 L230.5 464.5 L231.5 465.5 L232.5 465.5 L232.5 466.5 L232.5 467.5 L232.5 468.5 L231.5 469.5 L226.5 474.5 L233.5 474.5 M244.5 464.5 L244.5 471.5 L244.5 473.5 L245.5 474.5 L246.5 474.5 L247.5 474.5 L249.5 474.5 L250.5 473.5 L250.5 471.5 L250.5 464.5 M256.5 464.5 L256.5 474.5 M252.5 464.5 L259.5 464.5 M268.5 467.5 L267.5 466.5 L266.5 465.5 L265.5 464.5 L264.5 464.5 L263.5 465.5 L262.5 466.5 L261.5 467.5 L261.5 468.5 L261.5 470.5 L261.5 472.5 L262.5 473.5 L263.5 474.5 L264.5 474.5 L265.5 474.5 L266.5 474.5 L267.5 473.5 L268.5 472.5" stroke="#000"/>
<path d="M426.5 464.5 L426.5 474.5 M426.5 464.5 L432.5 474.5 M432.5 464.5 L432.5 474.5 M438.5 464.5 L438.5 465.5 L437.5 466.5 L436.5 467.5 L436.5 468.5 L436.5 470.5 L436.5 472.5 L437.5 473.5 L438.5 474.5 L438.5 474.5 L440.5 474.5 L441.5 474.5 L442.5 473.5 L443.5 472.5 L443.5 470.5 L443.5 468.5 L443.5 467.5 L442.5 466.5 L441.5 465.5 L440.5 464.5 L438.5 464.5 M449.5 464.5 L445.5 474.5 M449.5 464.5 L452.5 474.5 M446.5 471.5 L451.5 471.5 M457.5 464.5 L453.5 474.5 M457.5 464.5 L461.5 474.5 M455.5 471.5 L459.5 471.5 M470.5 462.5 L462.5 477.5 M479.5 466.5 L478.5 465.5 L477.5 464.5 L475.5 464.5 L474.5 465.5 L473.5 466.5 L473.5 467.5 L473.5 468.5 L474.5 468.5 L475.5 468.5 L477.5 469.5 L478.5 470.5 L479.5 470.5 L479.5 471.5 L479.5 473.5 L478.5 474.5 L477.5 474.5 L475.5 474.5 L474.5 474.5 L473.5 473.5 M482.5 464.5 L484.5 474.5 M486.5 464.5 L484.5 474.5 M486.5 464.5 L488.5 474.5 M491.5 464.5 L488.5 474.5 M494.5 464.5 L494.5 474.5 M494.5 464.5 L498.5 464.5 L499.5 465.5 L500.5 465.5 L500.5 466.5 L500.5 468.5 L500.5 468.5 L499.5 469.5 L498.5 469.5 L494.5 469.5 M510.5 467.5 L509.5 466.5 L508.5 465.5 L507.5 464.5 L506.5 464.5 L505.5 465.5 L504.5 466.5 L503.5 467.5 L503.5 468.5 L503.5 470.5 L503.5 472.5 L504.5 473.5 L505.5 474.5 L506.5 474.5 L507.5 474.5 L508.5 474.5 L509.5 473.5 L510.5 472.5 M520.5 464.5 L520.5 474.5 M520.5 464.5 L525.5 464.5 L526.5 465.5 L526.5 465.5 L527.5 466.5 L527.5 467.5 L526.5 468.5 L526.5 468.5 L525.5 469.5 M520.5 469.5 L525.5 469.5 L526.5 469.5 L526.5 470.5 L527.5 471.5 L527.5 472.5 L526.5 473.5 L526.5 474.5 L525.5 474.5 L520.5 474.5 M532.5 468.5 L531.5 468.5 L530.5 469.5 L530.5 470.5 L530.5 471.5 L530.5 473.5 L531.5 474.5 L532.5 474.5 L533.5 474.5 L534.5 474.5 L535.5 473.5 L536.5 471.5 L536.5 470.5 L535.5 469.5 L534.5 468.5 L533.5 468.5 L532.5 468.5 M539.5 468.5 L539.5 472.5 L539.5 474.5 L540.5 474.5 L542.5 474.5 L543.5 474.5 L544.5 472.5 M544.5 468.5 L544.5 474.5 M548.5 464.5 L548.5 474.5 M556.5 464.5 L556.5 474.5 M556.5 469.5 L556.5 468.5 L555.5 468.5 L553.5 468.5 L552.5 468.5 L551.5 469.5 L551.5 470.5 L551.5 471.5 L551.5 473.5 L552.5 474.5 L553.5 474.5 L555.5 474.5 L556.5 474.5 L556.5 473.5 M560.5 470.5 L565.5 470.5 L565.5 469.5 L565.5 468.5 L564.5 468.5 L563.5 468.5 L562.5 468.5 L561.5 468.5 L560.5 469.5 L560.5 470.5 L560.5 471.5 L560.5 473.5 L561.5 474.5 L562.5 474.5 L563.5 474.5 L564.5 474.5 L565.5 473.5 M568.5 468.5 L568.5 474.5 M568.5 470.5 L569.5 469.5 L570.5 468.5 L571.5 468.5 L572.5 468.5 M575.5 474.5 L575.5 474.5 L574.5 474.5 L575.5 473.5 L575.5 474.5 L575.5 474.5 L575.5 475.5 L574.5 476.5 M593.5 467.5 L593.5 466.5 L592.5 465.5 L591.5 464.5 L589.5 464.5 L588.5 465.5 L587.5 466.5 L587.5 467.5 L586.5 468.5 L586.5 470.5 L587.5 472.5 L587.5 473.5 L588.5 474.5 L589.5 474.5 L591.5 474.5 L592.5 474.5 L593.5 473.5 L593.5 472.5 M599.5 464.5 L598.5 465.5 L597.5 466.5 L596.5 467.5 L596.5 468.5 L596.5 470.5 L596.5 472.5 L597.5 473.5 L598.5 474.5 L599.5 474.5 L600.5 474.5 L601.5 474.5 L602.5 473.5 L603.5 472.5 L603.5 470.5 L603.5 468.5 L603.5 467.5 L602.5 466.5 L601.5 465.5 L600.5 464.5 L599.5 464.5 M614.5 464.5 L614.5 471.5 L614.5 473.5 L615.5 474.5 L617.5 474.5 L618.5 474.5 L619.5 474.5 L620.5 473.5 L620.5 471.5 L620.5 464.5 M630.5 466.5 L629.5 465.5 L628.5 464.5 L626.5 464.5 L624.5 465.5 L624.5 466.5 L624.5 467.5 L624.5 468.5 L624.5 468.5 L625.5 468.5 L628.5 469.5 L629.5 470.5 L630.5 470.5 L630.5 471.5 L630.5 473.5 L629.5 474.5 L628.5 474.5 L626.5 474.5 L624.5 474.5 L624.5 473.5 M636.5 464.5 L632.5 474.5 M636.5 464.5 L639.5 474.5 M633.5 471.5 L638.5 471.5" stroke="#000"/>
<path d="M269.5 444.5 L269.5 450.5 L269.5 452.5 L270.5 453.5 L272.5 453.5 L272.5 453.5 L274.5 453.5 L275.5 452.5 L275.5 450.5 L275.5 444.5 M278.5 447.5 L278.5 453.5 M278.5 449.5 L280.5 447.5 L280.5 447.5 L282.5 447.5 L283.5 447.5 L283.5 449.5 L283.5 453.5 M286.5 444.5 L286.5 444.5 L287.5 444.5 L286.5 444.5 L286.5 444.5 M286.5 447.5 L286.5 453.5 M289.5 447.5 L292.5 453.5 M294.5 447.5 L292.5 453.5 M296.5 450.5 L301.5 450.5 L301.5 449.5 L301.5 448.5 L300.5 447.5 L300.5 447.5 L298.5 447.5 L297.5 447.5 L297.5 448.5 L296.5 450.5 L296.5 450.5 L297.5 452.5 L297.5 453.5 L298.5 453.5 L300.5 453.5 L300.5 453.5 L301.5 452.5 M304.5 447.5 L304.5 453.5 M304.5 450.5 L305.5 448.5 L306.5 447.5 L306.5 447.5 L308.5 447.5 M314.5 448.5 L314.5 447.5 L312.5 447.5 L311.5 447.5 L310.5 447.5 L309.5 448.5 L310.5 449.5 L311.5 450.5 L313.5 450.5 L314.5 450.5 L314.5 451.5 L314.5 452.5 L314.5 453.5 L312.5 453.5 L311.5 453.5 L310.5 453.5 L309.5 452.5 M322.5 447.5 L322.5 453.5 M322.5 448.5 L321.5 447.5 L320.5 447.5 L319.5 447.5 L318.5 447.5 L317.5 448.5 L317.5 450.5 L317.5 450.5 L317.5 452.5 L318.5 453.5 L319.5 453.5 L320.5 453.5 L321.5 453.5 L322.5 452.5 M325.5 444.5 L325.5 453.5 M337.5 444.5 L337.5 453.5 M334.5 444.5 L340.5 444.5 M342.5 444.5 L342.5 444.5 L343.5 444.5 L342.5 444.5 L342.5 444.5 M342.5 447.5 L342.5 453.5 M346.5 447.5 L346.5 453.5 M346.5 449.5 L347.5 447.5 L348.5 447.5 L349.5 447.5 L350.5 447.5 L350.5 449.5 L350.5 453.5 M350.5 449.5 L351.5 447.5 L352.5 447.5 L354.5 447.5 L354.5 447.5 L355.5 449.5 L355.5 453.5 M358.5 450.5 L363.5 450.5 L363.5 449.5 L362.5 448.5 L362.5 447.5 L361.5 447.5 L360.5 447.5 L359.5 447.5 L358.5 448.5 L358.5 450.5 L358.5 450.5 L358.5 452.5 L359.5 453.5 L360.5 453.5 L361.5 453.5 L362.5 453.5 L363.5 452.5" stroke="#000"/>
<path d="M54.5 428.5 L54.5 437.5 M54.5 428.5 L57.5 428.5 L58.5 428.5 L59.5 429.5 L60.5 430.5 L60.5 431.5 L60.5 434.5 L60.5 435.5 L59.5 436.5 L58.5 437.5 L57.5 437.5 L54.5 437.5 M62.5 434.5 L68.5 434.5 L68.5 433.5 L67.5 432.5 L67.5 431.5 L66.5 431.5 L65.5 431.5 L64.5 431.5 L63.5 432.5 L62.5 434.5 L62.5 434.5 L63.5 436.5 L64.5 437.5 L65.5 437.5 L66.5 437.5 L67.5 437.5 L68.5 436.5 M75.5 432.5 L74.5 431.5 L74.5 431.5 L72.5 431.5 L71.5 431.5 L71.5 432.5 L70.5 434.5 L70.5 434.5 L71.5 436.5 L71.5 437.5 L72.5 437.5 L74.5 437.5 L74.5 437.5 L75.5 436.5 M89.5 428.5 L85.5 428.5 L84.5 432.5 L85.5 431.5 L86.5 431.5 L87.5 431.5 L88.5 431.5 L89.5 432.5 L90.5 434.5 L90.5 434.5 L89.5 436.5 L88.5 437.5 L87.5 437.5 L86.5 437.5 L85.5 437.5 L84.5 436.5 L84.5 435.5" stroke="#000"/>
<path d="M216.5 428.5 L216.5 437.5 M216.5 428.5 L219.5 428.5 L220.5 428.5 L221.5 429.5 L222.5 430.5 L222.5 431.5 L222.5 434.5 L222.5 435.5 L221.5 436.5 L220.5 437.5 L219.5 437.5 L216.5 437.5 M224.5 434.5 L230.5 434.5 L230.5 433.5 L229.5 432.5 L229.5 431.5 L228.5 431.5 L227.5 431.5 L226.5 431.5 L225.5 432.5 L224.5 434.5 L224.5 434.5 L225.5 436.5 L226.5 437.5 L227.5 437.5 L228.5 437.5 L229.5 437.5 L230.5 436.5 M237.5 432.5 L236.5 431.5 L236.5 431.5 L234.5 431.5 L233.5 431.5 L233.5 432.5 L232.5 434.5 L232.5 434.5 L233.5 436.5 L233.5 437.5 L234.5 437.5 L236.5 437.5 L236.5 437.5 L237.5 436.5 M251.5 429.5 L251.5 428.5 L250.5 428.5 L249.5 428.5 L247.5 428.5 L247.5 430.5 L246.5 432.5 L246.5 434.5 L247.5 436.5 L247.5 437.5 L249.5 437.5 L249.5 437.5 L250.5 437.5 L251.5 436.5 L252.5 434.5 L252.5 434.5 L251.5 433.5 L250.5 432.5 L249.5 431.5 L249.5 431.5 L247.5 432.5 L247.5 433.5 L246.5 434.5" stroke="#000"/>
<path d="M379.5 428.5 L379.5 437.5 M379.5 428.5 L382.5 428.5 L383.5 428.5 L384.5 429.5 L385.5 430.5 L385.5 431.5 L385.5 434.5 L385.5 435.5 L384.5 436.5 L383.5 437.5 L382.5 437.5 L379.5 437.5 M388.5 434.5 L393.5 434.5 L393.5 433.5 L392.5 432.5 L392.5 431.5 L391.5 431.5 L390.5 431.5 L389.5 431.5 L388.5 432.5 L388.5 434.5 L388.5 434.5 L388.5 436.5 L389.5 437.5 L390.5 437.5 L391.5 437.5 L392.5 437.5 L393.5 436.5 M400.5 432.5 L399.5 431.5 L399.5 431.5 L397.5 431.5 L396.5 431.5 L396.5 432.5 L395.5 434.5 L395.5 434.5 L396.5 436.5 L396.5 437.5 L397.5 437.5 L399.5 437.5 L399.5 437.5 L400.5 436.5 M415.5 428.5 L410.5 437.5 M409.5 428.5 L415.5 428.5" stroke="#000"/>
<path d="M542.5 428.5 L542.5 437.5 M542.5 428.5 L545.5 428.5 L546.5 428.5 L547.5 429.5 L548.5 430.5 L548.5 431.5 L548.5 434.5 L548.5 435.5 L547.5 436.5 L546.5 437.5 L545.5 437.5 L542.5 437.5 M550.5 434.5 L556.5 434.5 L556.5 433.5 L555.5 432.5 L555.5 431.5 L554.5 431.5 L553.5 431.5 L552.5 431.5 L551.5 432.5 L550.5 434.5 L550.5 434.5 L551.5 436.5 L552.5 437.5 L553.5 437.5 L554.5 437.5 L555.5 437.5 L556.5 436.5 M563.5 432.5 L562.5 431.5 L562.5 431.5 L560.5 431.5 L559.5 431.5 L559.5 432.5 L558.5 434.5 L558.5 434.5 L559.5 436.5 L559.5 437.5 L560.5 437.5 L562.5 437.5 L562.5 437.5 L563.5 436.5 M574.5 428.5 L573.5 428.5 L572.5 429.5 L572.5 430.5 L573.5 431.5 L573.5 431.5 L575.5 432.5 L576.5 432.5 L577.5 433.5 L578.5 434.5 L578.5 435.5 L577.5 436.5 L577.5 437.5 L576.5 437.5 L574.5 437.5 L573.5 437.5 L572.5 436.5 L572.5 435.5 L572.5 434.5 L572.5 433.5 L573.5 432.5 L574.5 432.5 L576.5 431.5 L577.5 431.5 L577.5 430.5 L577.5 429.5 L577.5 428.5 L576.5 428.5 L574.5 428.5" stroke="#000"/>
<path d="M41.5 37.5 L42.5 36.5 L43.5 35.5 L43.5 43.5 M51.5 35.5 L50.5 35.5 L49.5 37.5 L48.5 38.5 L48.5 40.5 L49.5 41.5 L50.5 43.5 L51.5 43.5 L52.5 43.5 L53.5 43.5 L54.5 41.5 L54.5 40.5 L54.5 38.5 L54.5 37.5 L53.5 35.5 L52.5 35.5 L51.5 35.5" stroke="#000"/>
<path d="M57.5 35.5 L62.5 35.5 M64.5 33.5 L64.5 33.5 L64.5 33.5 L65.5 32.5 L65.5 32.5 L66.5 32.5 L67.5 32.5 L67.5 33.5 L67.5 33.5 L67.5 34.5 L67.5 34.5 L67.5 35.5 L64.5 38.5 L68.5 38.5" stroke="#000"/>
<path d="M41.5 88.5 L42.5 87.5 L43.5 86.5 L43.5 95.5 M51.5 86.5 L50.5 86.5 L49.5 88.5 L48.5 90.5 L48.5 91.5 L49.5 93.5 L50.5 95.5 L51.5 95.5 L52.5 95.5 L53.5 95.5 L54.5 93.5 L54.5 91.5 L54.5 90.5 L54.5 88.5 L53.5 86.5 L52.5 86.5 L51.5 86.5" stroke="#000"/>
<path d="M57.5 86.5 L62.5 86.5 M64.5 83.5 L67.5 83.5 L66.5 85.5 L67.5 85.5 L67.5 86.5 L67.5 86.5 L68.5 87.5 L68.5 87.5 L67.5 88.5 L67.5 89.5 L66.5 89.5 L65.5 89.5 L64.5 89.5 L64.5 88.5 L64.5 88.5" stroke="#000"/>
<path d="M41.5 143.5 L42.5 142.5 L43.5 141.5 L43.5 150.5 M51.5 141.5 L50.5 141.5 L49.5 143.5 L48.5 145.5 L48.5 146.5 L49.5 148.5 L50.5 150.5 L51.5 150.5 L52.5 150.5 L53.5 150.5 L54.5 148.5 L54.5 146.5 L54.5 145.5 L54.5 143.5 L53.5 141.5 L52.5 141.5 L51.5 141.5" stroke="#000"/>
<path d="M57.5 141.5 L62.5 141.5 M67.5 138.5 L64.5 142.5 L68.5 142.5 M67.5 138.5 L67.5 144.5" stroke="#000"/>
<path d="M41.5 198.5 L42.5 197.5 L43.5 196.5 L43.5 204.5 M51.5 196.5 L50.5 196.5 L49.5 198.5 L48.5 199.5 L48.5 201.5 L49.5 202.5 L50.5 204.5 L51.5 204.5 L52.5 204.5 L53.5 204.5 L54.5 202.5 L54.5 201.5 L54.5 199.5 L54.5 198.5 L53.5 196.5 L52.5 196.5 L51.5 196.5" stroke="#000"/>
<path d="M57.5 196.5 L62.5 196.5 M67.5 193.5 L64.5 193.5 L64.5 196.5 L64.5 195.5 L65.5 195.5 L66.5 195.5 L67.5 195.5 L67.5 196.5 L68.5 197.5 L68.5 197.5 L67.5 198.5 L67.5 199.5 L66.5 199.5 L65.5 199.5 L64.5 199.5 L64.5 198.5 L64.5 198.5" stroke="#000"/>
<path d="M41.5 252.5 L42.5 251.5 L43.5 250.5 L43.5 259.5 M51.5 250.5 L50.5 250.5 L49.5 252.5 L48.5 254.5 L48.5 255.5 L49.5 257.5 L50.5 259.5 L51.5 259.5 L52.5 259.5 L53.5 259.5 L54.5 257.5 L54.5 255.5 L54.5 254.5 L54.5 252.5 L53.5 250.5 L52.5 250.5 L51.5 250.5" stroke="#000"/>
<path d="M57.5 250.5 L62.5 250.5 M67.5 248.5 L67.5 247.5 L66.5 247.5 L66.5 247.5 L65.5 247.5 L64.5 248.5 L64.5 250.5 L64.5 251.5 L64.5 252.5 L65.5 253.5 L66.5 253.5 L66.5 253.5 L67.5 253.5 L67.5 252.5 L68.5 251.5 L68.5 251.5 L67.5 250.5 L67.5 250.5 L66.5 249.5 L66.5 249.5 L65.5 250.5 L64.5 250.5 L64.5 251.5" stroke="#000"/>
<path d="M41.5 307.5 L42.5 306.5 L43.5 305.5 L43.5 314.5 M51.5 305.5 L50.5 305.5 L49.5 307.5 L48.5 309.5 L48.5 310.5 L49.5 312.5 L50.5 314.5 L51.5 314.5 L52.5 314.5 L53.5 314.5 L54.5 312.5 L54.5 310.5 L54.5 309.5 L54.5 307.5 L53.5 305.5 L52.5 305.5 L51.5 305.5" stroke="#000"/>
<path d="M57.5 305.5 L62.5 305.5 M68.5 302.5 L65.5 308.5 M64.5 302.5 L68.5 302.5" stroke="#000"/>
<path d="M41.5 362.5 L42.5 361.5 L43.5 360.5 L43.5 369.5 M51.5 360.5 L50.5 360.5 L49.5 362.5 L48.5 364.5 L48.5 365.5 L49.5 367.5 L50.5 369.5 L51.5 369.5 L52.5 369.5 L53.5 369.5 L54.5 367.5 L54.5 365.5 L54.5 364.5 L54.5 362.5 L53.5 360.5 L52.5 360.5 L51.5 360.5" stroke="#000"/>
<path d="M57.5 360.5 L62.5 360.5 M65.5 357.5 L64.5 357.5 L64.5 358.5 L64.5 358.5 L64.5 359.5 L65.5 359.5 L66.5 360.5 L67.5 360.5 L67.5 360.5 L68.5 361.5 L68.5 362.5 L67.5 362.5 L67.5 363.5 L66.5 363.5 L65.5 363.5 L64.5 363.5 L64.5 362.5 L64.5 362.5 L64.5 361.5 L64.5 360.5 L65.5 360.5 L65.5 360.5 L67.5 359.5 L67.5 359.5 L67.5 358.5 L67.5 358.5 L67.5 357.5 L66.5 357.5 L65.5 357.5" stroke="#000"/>
<path d="M41.5 412.5 L42.5 411.5 L43.5 410.5 L43.5 419.5 M51.5 410.5 L50.5 410.5 L49.5 412.5 L48.5 414.5 L48.5 415.5 L49.5 417.5 L50.5 419.5 L51.5 419.5 L52.5 419.5 L53.5 419.5 L54.5 417.5 L54.5 415.5 L54.5 414.5 L54.5 412.5 L53.5 410.5 L52.5 410.5 L51.5 410.5" stroke="#000"/>
<path d="M57.5 410.5 L62.5 410.5 M67.5 409.5 L67.5 410.5 L67.5 410.5 L66.5 411.5 L65.5 411.5 L65.5 410.5 L64.5 410.5 L64.5 409.5 L64.5 409.5 L64.5 408.5 L65.5 407.5 L65.5 407.5 L66.5 407.5 L67.5 407.5 L67.5 408.5 L67.5 409.5 L67.5 410.5 L67.5 412.5 L67.5 413.5 L66.5 413.5 L65.5 413.5 L64.5 413.5 L64.5 412.5" stroke="#000"/>
<rect x="562" y="111" width="4" height="1" fill="#000" stroke="none"/>
<rect x="567" y="111" width="3" height="1" fill="#000" stroke="none"/>
<rect x="564" y="112" width="1" height="1" fill="#000" stroke="none"/>
<rect x="567" y="112" width="1" height="1" fill="#000" stroke="none"/>
<rect x="564" y="113" width="1" height="1" fill="#000" stroke="none"/>
<rect x="567" y="113" width="1" height="1" fill="#000" stroke="none"/>
<rect x="565" y="114" width="2" height="1" fill="#000" stroke="none"/>
<rect x="565" y="115" width="2" height="1" fill="#000" stroke="none"/>
<rect x="565" y="116" width="2" height="1" fill="#000" stroke="none"/>
<rect x="564" y="117" width="1" height="1" fill="#000" stroke="none"/>
<rect x="567" y="117" width="1" height="1" fill="#000" stroke="none"/>
<rect x="564" y="118" width="1" height="1" fill="#000" stroke="none"/>
<rect x="567" y="118" width="1" height="1" fill="#000" stroke="none"/>
<rect x="562" y="119" width="4" height="1" fill="#000" stroke="none"/>
<rect x="567" y="119" width="3" height="1" fill="#000" stroke="none"/>
<rect x="563" y="165" width="2" height="1" fill="#000" stroke="none"/>
<rect x="569" y="165" width="3" height="1" fill="#000" stroke="none"/>
<rect x="564" y="166" width="2" height="1" fill="#000" stroke="none"/>
<rect x="569" y="166" width="1" height="1" fill="#000" stroke="none"/>
<rect x="564" y="167" width="2" height="1" fill="#000" stroke="none"/>
<rect x="568" y="167" width="2" height="1" fill="#000" stroke="none"/>
<rect x="564" y="168" width="2" height="1" fill="#000" stroke="none"/>
<rect x="568" y="168" width="2" height="1" fill="#000" stroke="none"/>
<rect x="564" y="169" width="1" height="1" fill="#000" stroke="none"/>
<rect x="567" y="169" width="1" height="1" fill="#000" stroke="none"/>
<rect x="569" y="169" width="1" height="1" fill="#000" stroke="none"/>
<rect x="564" y="170" width="1" height="1" fill="#000" stroke="none"/>
<rect x="567" y="170" width="1" height="1" fill="#000" stroke="none"/>
<rect x="569" y="170" width="1" height="1" fill="#000" stroke="none"/>
<rect x="564" y="171" width="1" height="1" fill="#000" stroke="none"/>
<rect x="566" y="171" width="1" height="1" fill="#000" stroke="none"/>
<rect x="569" y="171" width="1" height="1" fill="#000" stroke="none"/>
<rect x="564" y="172" width="1" height="1" fill="#000" stroke="none"/>
<rect x="566" y="172" width="1" height="1" fill="#000" stroke="none"/>
<rect x="569" y="172" width="1" height="1" fill="#000" stroke="none"/>
<rect x="563" y="173" width="4" height="1" fill="#000" stroke="none"/>
<rect x="568" y="173" width="4" height="1" fill="#000" stroke="none"/>
<rect x="566" y="220" width="2" height="1" fill="#000" stroke="none"/>
<rect x="569" y="220" width="1" height="1" fill="#000" stroke="none"/>
<rect x="564" y="221" width="2" height="1" fill="#000" stroke="none"/>
<rect x="568" y="221" width="2" height="1" fill="#000" stroke="none"/>
<rect x="563" y="222" width="2" height="1" fill="#000" stroke="none"/>
<rect x="569" y="222" width="1" height="1" fill="#000" stroke="none"/>
<rect x="563" y="223" width="1" height="1" fill="#000" stroke="none"/>
<rect x="569" y="223" width="1" height="1" fill="#000" stroke="none"/>
<rect x="563" y="224" width="1" height="1" fill="#000" stroke="none"/>
<rect x="563" y="225" width="1" height="1" fill="#000" stroke="none"/>
<rect x="563" y="226" width="2" height="1" fill="#000" stroke="none"/>
<rect x="569" y="226" width="1" height="1" fill="#000" stroke="none"/>
<rect x="564" y="227" width="1" height="1" fill="#000" stroke="none"/>
<rect x="568" y="227" width="1" height="1" fill="#000" stroke="none"/>
<rect x="565" y="228" width="4" height="1" fill="#000" stroke="none"/>
<rect x="563" y="275" width="5" height="1" fill="#000" stroke="none"/>
<rect x="564" y="276" width="1" height="1" fill="#000" stroke="none"/>
<rect x="568" y="276" width="2" height="1" fill="#000" stroke="none"/>
<rect x="564" y="277" width="1" height="1" fill="#000" stroke="none"/>
<rect x="569" y="277" width="1" height="1" fill="#000" stroke="none"/>
<rect x="564" y="278" width="1" height="1" fill="#000" stroke="none"/>
<rect x="568" y="278" width="1" height="1" fill="#000" stroke="none"/>
<rect x="564" y="279" width="5" height="1" fill="#000" stroke="none"/>
<rect x="564" y="280" width="1" height="1" fill="#000" stroke="none"/>
<rect x="569" y="280" width="1" height="1" fill="#000" stroke="none"/>
<rect x="564" y="281" width="1" height="1" fill="#000" stroke="none"/>
<rect x="569" y="281" width="1" height="1" fill="#000" stroke="none"/>
<rect x="564" y="282" width="1" height="1" fill="#000" stroke="none"/>
<rect x="568" y="282" width="1" height="1" fill="#000" stroke="none"/>
<rect x="563" y="283" width="6" height="1" fill="#000" stroke="none"/>
<rect x="566" y="330" width="1" height="1" fill="#000" stroke="none"/>
<rect x="566" y="331" width="1" height="1" fill="#000" stroke="none"/>
<rect x="565" y="332" width="3" height="1" fill="#000" stroke="none"/>
<rect x="565" y="333" width="1" height="1" fill="#000" stroke="none"/>
<rect x="567" y="333" width="1" height="1" fill="#000" stroke="none"/>
<rect x="564" y="334" width="1" height="1" fill="#000" stroke="none"/>
<rect x="567" y="334" width="1" height="1" fill="#000" stroke="none"/>
<rect x="564" y="335" width="1" height="1" fill="#000" stroke="none"/>
<rect x="567" y="335" width="1" height="1" fill="#000" stroke="none"/>
<rect x="564" y="336" width="5" height="1" fill="#000" stroke="none"/>
<rect x="563" y="337" width="1" height="1" fill="#000" stroke="none"/>
<rect x="568" y="337" width="1" height="1" fill="#000" stroke="none"/>
<rect x="562" y="338" width="4" height="1" fill="#000" stroke="none"/>
<rect x="567" y="338" width="3" height="1" fill="#000" stroke="none"/>
<path d="M10.5 262.5 L22.5 259.5 M10.5 256.5 L22.5 259.5 M10.5 256.5 L22.5 253.5 M10.5 250.5 L22.5 253.5 M14.5 240.5 L22.5 240.5 M15.5 240.5 L14.5 241.5 L14.5 243.5 L14.5 244.5 L14.5 246.5 L15.5 247.5 L17.5 247.5 L18.5 247.5 L20.5 247.5 L21.5 246.5 L22.5 244.5 L22.5 243.5 L21.5 241.5 L20.5 240.5 M10.5 235.5 L20.5 235.5 L21.5 234.5 L22.5 233.5 L22.5 232.5 M14.5 237.5 L14.5 233.5 M10.5 228.5 L20.5 228.5 L21.5 227.5 L22.5 226.5 L22.5 225.5 M14.5 230.5 L14.5 226.5 M15.5 215.5 L14.5 216.5 L14.5 218.5 L14.5 220.5 L14.5 221.5 L15.5 222.5 L17.5 221.5 L17.5 220.5 L18.5 217.5 L18.5 216.5 L20.5 215.5 L20.5 215.5 L21.5 216.5 L22.5 218.5 L22.5 220.5 L21.5 221.5 L20.5 222.5 M14.5 202.5 L22.5 202.5 M16.5 202.5 L14.5 200.5 L14.5 199.5 L14.5 197.5 L14.5 196.5 L16.5 195.5 L22.5 195.5 M16.5 195.5 L14.5 194.5 L14.5 193.5 L14.5 191.5 L14.5 190.5 L16.5 189.5 L22.5 189.5" stroke="#000"/>
<path d="M11.5 187.5 L11.5 181.5 M9.5 179.5 L9.5 179.5 L8.5 179.5 L8.5 178.5 L7.5 178.5 L7.5 176.5 L8.5 176.5 L8.5 176.5 L9.5 175.5 L9.5 175.5 L10.5 176.5 L11.5 176.5 L14.5 179.5 L14.5 175.5" stroke="#000"/>
<path d="M587.5 230.5 L586.5 231.5 L585.5 232.5 L585.5 233.5 L585.5 235.5 L585.5 236.5 L586.5 237.5 L587.5 237.5 L589.5 238.5 L591.5 238.5 L593.5 237.5 L594.5 237.5 L595.5 236.5 L595.5 235.5 L595.5 233.5 L595.5 232.5 L594.5 231.5 L593.5 230.5 L591.5 230.5 M591.5 233.5 L591.5 230.5 M585.5 224.5 L585.5 225.5 L586.5 226.5 L587.5 227.5 L589.5 227.5 L591.5 227.5 L593.5 227.5 L594.5 226.5 L595.5 225.5 L595.5 224.5 L595.5 222.5 L595.5 221.5 L594.5 220.5 L593.5 220.5 L591.5 219.5 L589.5 219.5 L587.5 220.5 L586.5 220.5 L585.5 221.5 L585.5 222.5 L585.5 224.5 M585.5 216.5 L595.5 216.5 M585.5 216.5 L585.5 209.5 M590.5 216.5 L590.5 212.5 M595.5 216.5 L595.5 209.5 M586.5 199.5 L585.5 200.5 L585.5 202.5 L585.5 204.5 L585.5 206.5 L586.5 207.5 L587.5 207.5 L588.5 206.5 L589.5 206.5 L589.5 205.5 L590.5 202.5 L591.5 200.5 L591.5 200.5 L592.5 199.5 L594.5 199.5 L595.5 200.5 L595.5 202.5 L595.5 204.5 L595.5 206.5 L594.5 207.5 M587.5 195.5 L586.5 194.5 L585.5 192.5 L595.5 192.5 M585.5 180.5 L585.5 185.5 L589.5 186.5 L589.5 185.5 L588.5 184.5 L588.5 182.5 L589.5 181.5 L590.5 180.5 L591.5 179.5 L592.5 179.5 L594.5 180.5 L595.5 181.5 L595.5 182.5 L595.5 184.5 L595.5 185.5 L594.5 186.5 L593.5 186.5 M587.5 167.5 L586.5 166.5 L585.5 164.5 L595.5 164.5 M594.5 157.5 L595.5 157.5 L595.5 157.5 L595.5 156.5 L594.5 157.5 M585.5 150.5 L585.5 151.5 L587.5 152.5 L589.5 153.5 L591.5 153.5 L593.5 152.5 L595.5 151.5 L595.5 150.5 L595.5 149.5 L595.5 147.5 L593.5 146.5 L591.5 146.5 L589.5 146.5 L587.5 146.5 L585.5 147.5 L585.5 149.5 L585.5 150.5 M591.5 142.5 L591.5 133.5 M585.5 127.5 L585.5 129.5 L586.5 129.5 L587.5 129.5 L588.5 129.5 L589.5 128.5 L589.5 125.5 L590.5 124.5 L591.5 123.5 L592.5 122.5 L593.5 122.5 L594.5 123.5 L595.5 123.5 L595.5 125.5 L595.5 127.5 L595.5 129.5 L594.5 129.5 L593.5 130.5 L592.5 130.5 L591.5 129.5 L590.5 128.5 L589.5 127.5 L589.5 124.5 L588.5 123.5 L587.5 123.5 L586.5 123.5 L585.5 123.5 L585.5 125.5 L585.5 127.5 M594.5 118.5 L595.5 119.5 L595.5 118.5 L595.5 118.5 L594.5 118.5 M585.5 111.5 L585.5 113.5 L587.5 114.5 L589.5 114.5 L591.5 114.5 L593.5 114.5 L595.5 113.5 L595.5 111.5 L595.5 110.5 L595.5 109.5 L593.5 108.5 L591.5 107.5 L589.5 107.5 L587.5 108.5 L585.5 109.5 L585.5 110.5 L585.5 111.5 M585.5 93.5 L595.5 97.5 M585.5 93.5 L595.5 89.5 M592.5 96.5 L592.5 91.5" stroke="#ff0000"/>
<path d="M613.5 230.5 L612.5 231.5 L611.5 232.5 L610.5 233.5 L610.5 235.5 L611.5 236.5 L612.5 237.5 L613.5 237.5 L614.5 238.5 L617.5 238.5 L618.5 237.5 L619.5 237.5 L620.5 236.5 L621.5 235.5 L621.5 233.5 L620.5 232.5 L619.5 231.5 L618.5 230.5 L617.5 230.5 M617.5 233.5 L617.5 230.5 M610.5 224.5 L611.5 225.5 L612.5 226.5 L613.5 227.5 L614.5 227.5 L617.5 227.5 L618.5 227.5 L619.5 226.5 L620.5 225.5 L621.5 224.5 L621.5 222.5 L620.5 221.5 L619.5 220.5 L618.5 220.5 L617.5 219.5 L614.5 219.5 L613.5 220.5 L612.5 220.5 L611.5 221.5 L610.5 222.5 L610.5 224.5 M610.5 216.5 L621.5 216.5 M610.5 216.5 L610.5 209.5 M615.5 216.5 L615.5 212.5 M621.5 216.5 L621.5 209.5 M612.5 199.5 L611.5 200.5 L610.5 202.5 L610.5 204.5 L611.5 206.5 L612.5 207.5 L613.5 207.5 L614.5 206.5 L614.5 206.5 L615.5 205.5 L616.5 202.5 L616.5 200.5 L617.5 200.5 L618.5 199.5 L619.5 199.5 L620.5 200.5 L621.5 202.5 L621.5 204.5 L620.5 206.5 L619.5 207.5 M612.5 195.5 L612.5 194.5 L610.5 192.5 L621.5 192.5 M610.5 181.5 L617.5 186.5 L617.5 179.5 M610.5 181.5 L621.5 181.5 M612.5 167.5 L612.5 166.5 L610.5 164.5 L621.5 164.5 M620.5 157.5 L620.5 157.5 L621.5 157.5 L620.5 156.5 L620.5 157.5 M610.5 150.5 L611.5 151.5 L612.5 152.5 L615.5 153.5 L616.5 153.5 L619.5 152.5 L620.5 151.5 L621.5 150.5 L621.5 149.5 L620.5 147.5 L619.5 146.5 L616.5 146.5 L615.5 146.5 L612.5 146.5 L611.5 147.5 L610.5 149.5 L610.5 150.5 M616.5 142.5 L616.5 133.5 M610.5 127.5 L611.5 129.5 L612.5 129.5 L613.5 129.5 L614.5 129.5 L614.5 128.5 L615.5 125.5 L615.5 124.5 L616.5 123.5 L617.5 122.5 L619.5 122.5 L620.5 123.5 L620.5 123.5 L621.5 125.5 L621.5 127.5 L620.5 129.5 L620.5 129.5 L619.5 130.5 L617.5 130.5 L616.5 129.5 L615.5 128.5 L615.5 127.5 L614.5 124.5 L614.5 123.5 L613.5 123.5 L612.5 123.5 L611.5 123.5 L610.5 125.5 L610.5 127.5 M620.5 118.5 L620.5 119.5 L621.5 118.5 L620.5 118.5 L620.5 118.5 M610.5 111.5 L611.5 113.5 L612.5 114.5 L615.5 114.5 L616.5 114.5 L619.5 114.5 L620.5 113.5 L621.5 111.5 L621.5 110.5 L620.5 109.5 L619.5 108.5 L616.5 107.5 L615.5 107.5 L612.5 108.5 L611.5 109.5 L610.5 110.5 L610.5 111.5 M610.5 93.5 L621.5 97.5 M610.5 93.5 L621.5 89.5 M617.5 96.5 L617.5 91.5" stroke="#ffa500"/>
<path d="M587.5 408.5 L586.5 409.5 L585.5 410.5 L585.5 411.5 L585.5 413.5 L585.5 414.5 L586.5 415.5 L587.5 415.5 L589.5 416.5 L591.5 416.5 L593.5 415.5 L594.5 415.5 L595.5 414.5 L595.5 413.5 L595.5 411.5 L595.5 410.5 L594.5 409.5 L593.5 408.5 L591.5 408.5 M591.5 411.5 L591.5 408.5 M585.5 402.5 L585.5 403.5 L586.5 404.5 L587.5 405.5 L589.5 405.5 L591.5 405.5 L593.5 405.5 L594.5 404.5 L595.5 403.5 L595.5 402.5 L595.5 400.5 L595.5 399.5 L594.5 398.5 L593.5 398.5 L591.5 397.5 L589.5 397.5 L587.5 398.5 L586.5 398.5 L585.5 399.5 L585.5 400.5 L585.5 402.5 M585.5 394.5 L595.5 394.5 M585.5 394.5 L585.5 387.5 M590.5 394.5 L590.5 390.5 M595.5 394.5 L595.5 387.5 M586.5 377.5 L585.5 378.5 L585.5 380.5 L585.5 382.5 L585.5 384.5 L586.5 385.5 L587.5 385.5 L588.5 384.5 L589.5 384.5 L589.5 383.5 L590.5 380.5 L591.5 378.5 L591.5 378.5 L592.5 377.5 L594.5 377.5 L595.5 378.5 L595.5 380.5 L595.5 382.5 L595.5 384.5 L594.5 385.5 M587.5 373.5 L586.5 372.5 L585.5 370.5 L595.5 370.5 M585.5 358.5 L585.5 363.5 L589.5 364.5 L589.5 363.5 L588.5 362.5 L588.5 360.5 L589.5 359.5 L590.5 358.5 L591.5 357.5 L592.5 357.5 L594.5 358.5 L595.5 359.5 L595.5 360.5 L595.5 362.5 L595.5 363.5 L594.5 364.5 L593.5 364.5 M585.5 343.5 L585.5 345.5 L587.5 346.5 L589.5 346.5 L591.5 346.5 L593.5 346.5 L595.5 345.5 L595.5 343.5 L595.5 342.5 L595.5 340.5 L593.5 339.5 L591.5 339.5 L589.5 339.5 L587.5 339.5 L585.5 340.5 L585.5 342.5 L585.5 343.5 M594.5 335.5 L595.5 335.5 L595.5 335.5 L595.5 334.5 L594.5 335.5 M585.5 325.5 L585.5 330.5 L589.5 330.5 L589.5 330.5 L588.5 328.5 L588.5 327.5 L589.5 325.5 L590.5 324.5 L591.5 324.5 L592.5 324.5 L594.5 324.5 L595.5 325.5 L595.5 327.5 L595.5 328.5 L595.5 330.5 L594.5 330.5 L593.5 331.5 M591.5 320.5 L591.5 311.5 M585.5 302.5 L592.5 308.5 L592.5 300.5 M585.5 302.5 L595.5 302.5 M594.5 296.5 L595.5 297.5 L595.5 296.5 L595.5 296.5 L594.5 296.5 M585.5 289.5 L585.5 291.5 L587.5 292.5 L589.5 292.5 L591.5 292.5 L593.5 292.5 L595.5 291.5 L595.5 289.5 L595.5 288.5 L595.5 287.5 L593.5 286.5 L591.5 285.5 L589.5 285.5 L587.5 286.5 L585.5 287.5 L585.5 288.5 L585.5 289.5 M585.5 271.5 L595.5 275.5 M585.5 271.5 L595.5 267.5 M592.5 274.5 L592.5 269.5" stroke="#0020ff"/>
<path d="M613.5 408.5 L612.5 409.5 L611.5 410.5 L610.5 411.5 L610.5 413.5 L611.5 414.5 L612.5 415.5 L613.5 415.5 L614.5 416.5 L617.5 416.5 L618.5 415.5 L619.5 415.5 L620.5 414.5 L621.5 413.5 L621.5 411.5 L620.5 410.5 L619.5 409.5 L618.5 408.5 L617.5 408.5 M617.5 411.5 L617.5 408.5 M610.5 402.5 L611.5 403.5 L612.5 404.5 L613.5 405.5 L614.5 405.5 L617.5 405.5 L618.5 405.5 L619.5 404.5 L620.5 403.5 L621.5 402.5 L621.5 400.5 L620.5 399.5 L619.5 398.5 L618.5 398.5 L617.5 397.5 L614.5 397.5 L613.5 398.5 L612.5 398.5 L611.5 399.5 L610.5 400.5 L610.5 402.5 M610.5 394.5 L621.5 394.5 M610.5 394.5 L610.5 387.5 M615.5 394.5 L615.5 390.5 M621.5 394.5 L621.5 387.5 M612.5 377.5 L611.5 378.5 L610.5 380.5 L610.5 382.5 L611.5 384.5 L612.5 385.5 L613.5 385.5 L614.5 384.5 L614.5 384.5 L615.5 383.5 L616.5 380.5 L616.5 378.5 L617.5 378.5 L618.5 377.5 L619.5 377.5 L620.5 378.5 L621.5 380.5 L621.5 382.5 L620.5 384.5 L619.5 385.5 M612.5 373.5 L612.5 372.5 L610.5 370.5 L621.5 370.5 M610.5 359.5 L617.5 364.5 L617.5 357.5 M610.5 359.5 L621.5 359.5 M610.5 343.5 L611.5 345.5 L612.5 346.5 L615.5 346.5 L616.5 346.5 L619.5 346.5 L620.5 345.5 L621.5 343.5 L621.5 342.5 L620.5 340.5 L619.5 339.5 L616.5 339.5 L615.5 339.5 L612.5 339.5 L611.5 340.5 L610.5 342.5 L610.5 343.5 M620.5 335.5 L620.5 335.5 L621.5 335.5 L620.5 334.5 L620.5 335.5 M610.5 325.5 L610.5 330.5 L615.5 330.5 L614.5 330.5 L614.5 328.5 L614.5 327.5 L614.5 325.5 L615.5 324.5 L617.5 324.5 L618.5 324.5 L619.5 324.5 L620.5 325.5 L621.5 327.5 L621.5 328.5 L620.5 330.5 L620.5 330.5 L619.5 331.5 M616.5 320.5 L616.5 311.5 M610.5 302.5 L617.5 308.5 L617.5 300.5 M610.5 302.5 L621.5 302.5 M620.5 296.5 L620.5 297.5 L621.5 296.5 L620.5 296.5 L620.5 296.5 M610.5 289.5 L611.5 291.5 L612.5 292.5 L615.5 292.5 L616.5 292.5 L619.5 292.5 L620.5 291.5 L621.5 289.5 L621.5 288.5 L620.5 287.5 L619.5 286.5 L616.5 285.5 L615.5 285.5 L612.5 286.5 L611.5 287.5 L610.5 288.5 L610.5 289.5 M610.5 271.5 L621.5 275.5 M610.5 271.5 L621.5 267.5 M617.5 274.5 L617.5 269.5" stroke="#5c00a4"/>
</g>
</svg>
</body></html>
